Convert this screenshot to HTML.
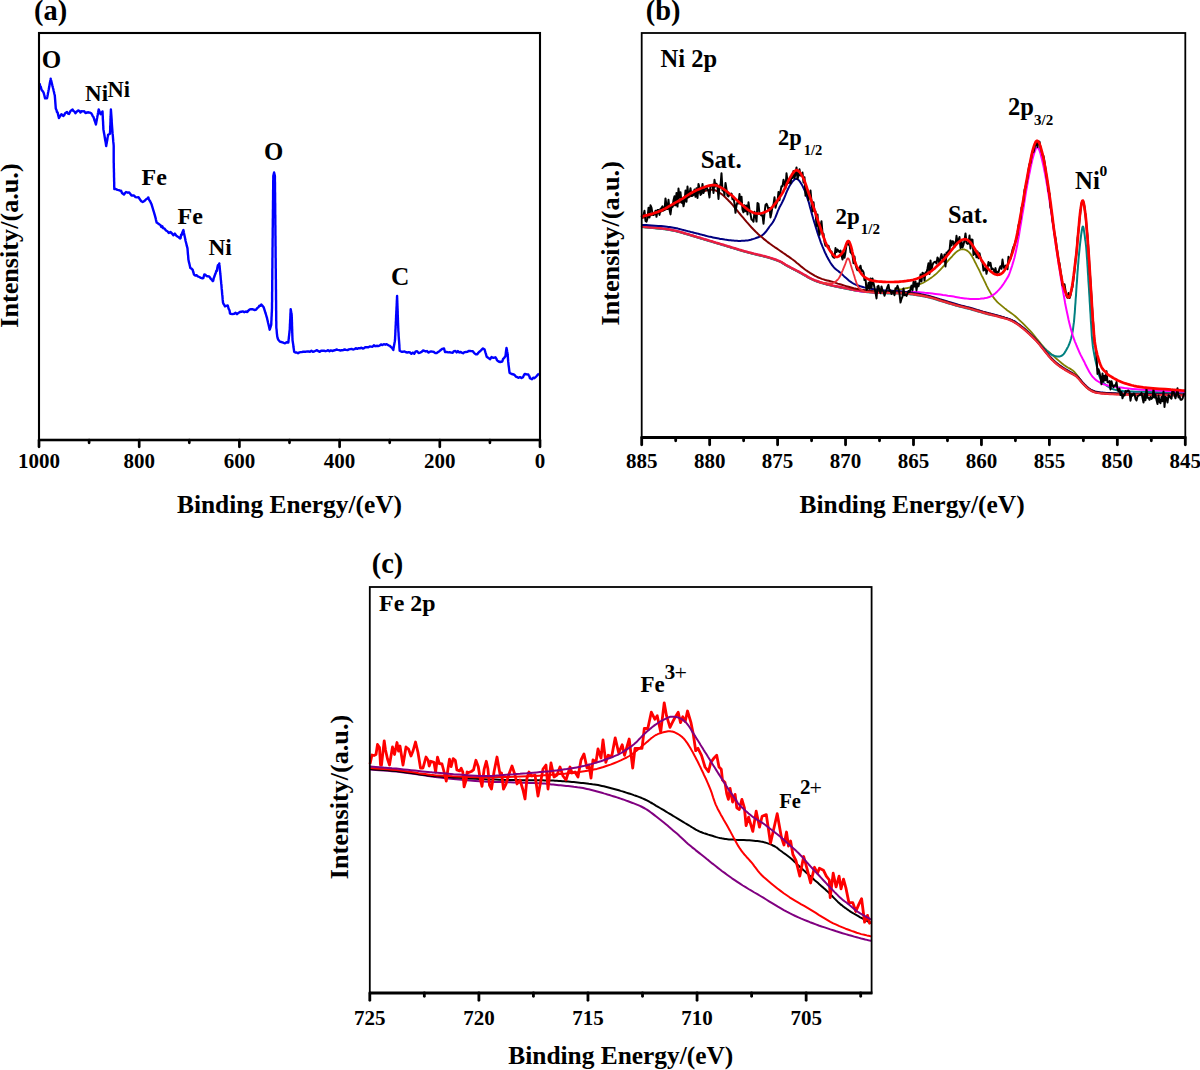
<!DOCTYPE html>
<html><head><meta charset="utf-8"><title>XPS spectra</title>
<style>html,body{margin:0;padding:0;background:#fff;overflow:hidden;}svg{display:block;font-family:"Liberation Serif",serif;}</style>
</head><body>
<svg width="1200" height="1070" viewBox="0 0 1200 1070" font-family="Liberation Serif" font-weight="bold">
<polyline points="39.5,83.4 39.9,84.8 40.4,86.7 40.8,86.8 41.3,89.1 41.7,89.9 42.7,91.2 43.6,92.7 44.0,94.1 44.4,95.5 44.7,96.9 45.1,98.3 47.0,98.3 47.3,97.0 47.5,95.7 47.8,94.4 48.0,93.1 48.3,91.8 48.5,90.5 48.8,89.2 49.0,87.9 49.3,86.6 49.5,85.2 49.7,83.9 50.0,82.6 50.2,81.3 50.5,80.0 50.7,78.7 51.0,80.0 51.4,81.4 51.7,82.7 52.0,84.0 52.3,85.3 52.7,86.7 53.0,88.0 53.4,89.5 53.7,91.0 54.1,92.5 54.4,94.0 54.8,95.5 54.9,96.8 55.0,98.1 55.1,99.4 55.2,100.7 55.3,102.0 55.4,103.4 55.5,104.7 55.6,106.0 55.7,107.3 55.8,108.6 56.4,109.7 57.0,112.1 57.6,112.3 57.9,113.7 58.2,115.2 58.6,116.6 58.9,118.0 59.7,116.8 60.6,115.4 61.4,114.2 63.2,116.0 64.2,115.1 65.1,113.3 67.0,112.0 68.0,113.6 69.0,114.0 69.8,112.5 70.5,111.0 72.6,109.5 73.5,111.1 74.5,111.5 75.4,113.3 76.3,112.2 77.3,111.2 78.2,110.5 79.3,110.8 80.5,112.5 81.7,111.1 82.9,111.4 84.2,111.3 85.5,113.0 87.0,112.5 88.5,112.3 89.9,112.7 91.3,113.3 92.0,114.5 92.7,116.1 93.4,116.8 94.1,118.9 94.5,120.3 95.0,121.7 95.5,123.1 95.9,124.5 96.2,123.1 96.4,121.8 96.7,120.4 96.9,119.0 97.2,117.7 97.4,116.3 97.7,115.0 97.9,113.6 98.2,112.2 98.4,110.9 98.7,109.5 99.3,111.0 100.0,112.8 100.6,114.2 101.5,113.2 102.5,111.4 102.6,112.8 102.6,114.1 102.7,115.5 102.8,116.9 102.8,118.2 102.9,119.6 103.0,121.0 103.1,122.4 103.1,123.7 103.2,125.1 103.3,126.5 103.3,127.8 103.4,129.2 103.6,130.5 103.8,131.8 104.0,133.1 104.3,134.4 104.5,135.7 104.7,137.0 104.9,138.2 105.1,139.5 105.3,140.8 105.6,142.1 105.8,143.4 106.0,144.7 106.2,146.0 106.4,144.6 106.7,143.2 106.9,141.8 107.2,140.4 107.4,139.0 107.6,137.6 107.9,136.2 108.1,134.8 110.0,133.8 110.0,132.5 110.1,131.1 110.2,129.8 110.2,128.4 110.2,127.1 110.3,125.7 110.4,124.4 110.4,123.0 110.5,121.7 110.5,120.3 110.5,119.0 110.6,117.6 110.7,116.2 110.7,114.9 110.8,113.5 110.8,112.2 110.9,110.8 110.9,109.5 111.0,110.8 111.1,112.2 111.2,113.5 111.3,114.9 111.4,116.2 111.5,117.6 111.6,118.9 111.7,120.2 111.7,121.6 111.8,122.9 111.9,124.3 112.0,125.6 112.1,127.0 112.2,128.3 112.3,129.7 112.4,131.0 112.5,132.4 112.6,133.7 112.8,135.1 112.9,136.5 113.0,137.8 113.1,139.2 113.2,140.5 113.3,141.9 113.5,143.3 113.6,144.6 113.7,146.0 113.7,147.4 113.7,148.7 113.7,150.1 113.7,151.5 113.7,152.8 113.7,154.2 113.7,155.5 113.7,156.9 113.7,158.3 113.7,159.6 113.7,161.0 113.7,162.3 113.8,163.7 113.8,165.0 113.8,166.3 113.8,167.7 113.9,169.0 113.9,170.3 113.9,171.7 114.0,173.0 114.0,174.3 114.0,175.7 114.0,177.0 114.1,178.3 114.1,179.7 114.1,181.0 114.2,182.3 114.2,183.7 114.2,185.0 114.2,186.3 114.3,187.7 114.3,189.0 115.8,189.0 117.4,189.9 118.8,190.1 120.2,190.8 121.1,190.8 122.0,193.0 124.0,194.6 125.0,193.0 126.0,192.0 127.7,192.7 129.0,192.4 130.2,193.8 131.5,195.5 134.0,195.5 135.5,197.1 137.0,197.4 138.5,197.2 140.0,199.5 141.3,201.2 142.7,202.0 143.8,201.4 145.0,200.5 146.1,199.3 147.2,198.7 148.3,197.4 148.8,198.9 149.4,200.4 149.9,200.9 150.4,201.9 150.9,203.1 151.5,204.1 152.0,205.8 152.4,207.1 152.8,208.5 153.2,209.8 153.6,211.1 154.0,212.4 154.4,213.8 154.8,215.1 155.2,216.6 155.6,218.1 155.9,219.6 156.3,221.1 156.7,222.6 158.1,223.5 159.5,224.5 160.4,225.0 161.3,226.9 162.3,226.2 163.2,228.2 164.6,228.7 166.0,230.5 167.4,231.2 168.8,232.9 170.4,232.0 172.0,233.5 173.4,235.3 174.9,233.6 176.3,235.7 177.5,236.5 178.8,237.3 180.0,238.5 180.6,238.0 181.1,234.6 181.7,234.9 182.3,232.5 182.8,231.4 183.4,230.1 183.7,231.5 183.9,232.8 184.2,234.2 184.5,235.6 184.8,236.9 185.1,238.3 185.3,239.6 185.6,241.0 186.0,242.5 186.4,244.0 186.7,245.4 187.1,246.9 187.5,248.4 187.6,249.8 187.7,251.2 187.8,252.6 187.9,254.0 188.1,255.4 188.2,256.8 188.3,258.2 188.4,259.6 188.7,261.0 189.0,262.4 189.4,263.8 189.7,265.2 190.0,266.6 190.3,268.0 191.5,268.6 192.7,269.9 193.1,271.5 193.6,273.0 194.0,274.6 195.3,275.6 196.5,275.2 197.8,276.4 199.3,277.0 200.9,277.9 202.4,278.3 203.3,278.1 204.3,274.5 205.2,274.6 206.5,276.0 207.7,276.3 209.0,276.4 209.9,277.3 210.8,278.9 211.8,279.7 212.7,281.1 213.2,280.8 213.6,278.7 214.1,277.2 214.6,276.0 215.0,274.7 215.5,273.6 216.0,272.2 216.4,270.6 216.9,270.9 217.4,267.4 217.9,265.2 218.4,265.9 218.8,264.6 219.3,263.4 219.4,264.7 219.6,266.1 219.7,267.4 219.8,268.7 219.9,270.0 220.1,271.4 220.2,272.7 220.3,274.0 220.5,275.4 220.6,276.7 220.7,278.0 220.8,279.3 221.0,280.7 221.1,282.0 221.2,283.4 221.4,284.7 221.5,286.1 221.6,287.5 221.7,288.9 221.9,290.2 222.0,291.6 222.1,293.0 222.2,294.4 222.4,295.7 222.5,297.1 222.6,298.5 222.7,299.9 222.9,301.2 223.0,302.6 223.6,304.1 224.3,305.0 224.9,306.4 226.3,305.8 227.7,305.4 228.2,307.0 228.6,308.7 229.1,309.4 229.6,310.8 230.0,313.5 230.5,313.8 232.3,314.1 234.2,313.8 235.6,312.8 237.0,314.2 238.4,312.9 239.8,312.0 241.3,311.7 242.8,311.4 244.3,312.2 245.8,311.5 247.3,312.0 248.5,310.5 249.8,309.4 251.0,309.2 252.9,309.3 254.8,310.0 256.0,309.7 257.3,308.0 258.5,307.3 259.4,305.6 260.4,305.8 261.3,304.5 262.5,305.9 263.7,307.3 264.1,308.6 264.5,309.9 264.9,311.2 265.3,312.5 265.7,313.7 266.1,315.0 266.5,316.3 266.9,317.6 267.2,318.9 267.5,320.3 267.8,321.6 268.1,323.0 268.5,324.3 268.8,325.7 269.1,327.0 269.4,328.4 269.7,329.7 270.2,328.1 270.7,326.6 271.2,325.0 271.3,323.6 271.3,322.2 271.4,320.8 271.5,319.4 271.5,318.0 271.6,316.6 271.7,315.2 271.7,313.8 271.8,312.4 271.9,311.0 271.9,309.6 272.0,308.2 272.0,306.9 272.0,305.6 272.0,304.3 272.0,303.0 272.1,301.7 272.1,300.4 272.1,299.1 272.1,297.7 272.1,296.4 272.1,295.1 272.1,293.8 272.1,292.5 272.2,291.2 272.2,289.9 272.2,288.6 272.2,287.3 272.2,286.0 272.2,284.7 272.2,283.4 272.2,282.1 272.2,280.8 272.3,279.4 272.3,278.1 272.3,276.8 272.3,275.5 272.3,274.2 272.3,272.9 272.3,271.6 272.3,270.3 272.3,269.0 272.4,267.7 272.4,266.4 272.4,265.1 272.4,263.8 272.4,262.5 272.4,261.1 272.4,259.8 272.4,258.5 272.5,257.2 272.5,255.9 272.5,254.6 272.5,253.3 272.5,252.0 272.5,250.7 272.5,249.4 272.5,248.1 272.6,246.8 272.6,245.4 272.6,244.1 272.6,242.8 272.6,241.5 272.6,240.2 272.6,238.9 272.7,237.6 272.7,236.3 272.7,235.0 272.7,233.7 272.7,232.3 272.7,231.0 272.7,229.7 272.7,228.4 272.8,227.1 272.8,225.8 272.8,224.5 272.8,223.2 272.8,221.9 272.8,220.6 272.8,219.2 272.9,217.9 272.9,216.6 272.9,215.3 272.9,214.0 272.9,212.7 272.9,211.4 272.9,210.1 273.0,208.8 273.0,207.4 273.0,206.1 273.0,204.8 273.0,203.5 273.0,202.2 273.0,200.9 273.1,199.6 273.1,198.3 273.1,197.0 273.1,195.7 273.1,194.3 273.1,193.0 273.1,191.7 273.1,190.4 273.2,189.1 273.2,187.8 273.2,186.5 273.2,185.2 273.2,183.9 273.2,182.6 273.2,181.2 273.3,179.9 273.3,178.6 273.3,177.3 273.3,176.0 273.7,174.2 274.1,172.5 274.5,174.2 274.9,176.0 274.9,177.3 274.9,178.6 274.9,179.9 274.9,181.2 275.0,182.6 275.0,183.9 275.0,185.2 275.0,186.5 275.0,187.8 275.0,189.1 275.0,190.4 275.0,191.7 275.1,193.0 275.1,194.3 275.1,195.7 275.1,197.0 275.1,198.3 275.1,199.6 275.1,200.9 275.1,202.2 275.2,203.5 275.2,204.8 275.2,206.1 275.2,207.4 275.2,208.8 275.2,210.1 275.2,211.4 275.2,212.7 275.2,214.0 275.3,215.3 275.3,216.6 275.3,217.9 275.3,219.2 275.3,220.6 275.3,221.9 275.3,223.2 275.3,224.5 275.4,225.8 275.4,227.1 275.4,228.4 275.4,229.7 275.4,231.0 275.4,232.3 275.4,233.7 275.4,235.0 275.5,236.3 275.5,237.6 275.5,238.9 275.5,240.2 275.5,241.5 275.5,242.8 275.5,244.1 275.5,245.4 275.6,246.8 275.6,248.1 275.6,249.4 275.6,250.7 275.6,252.0 275.6,253.3 275.6,254.6 275.6,255.9 275.6,257.3 275.7,258.6 275.7,259.9 275.7,261.2 275.7,262.5 275.7,263.8 275.7,265.2 275.7,266.5 275.7,267.8 275.8,269.1 275.8,270.4 275.8,271.7 275.8,273.1 275.8,274.4 275.8,275.7 275.8,277.0 275.8,278.3 275.9,279.6 275.9,280.9 275.9,282.3 275.9,283.6 275.9,284.9 275.9,286.2 275.9,287.5 275.9,288.8 276.0,290.2 276.0,291.5 276.0,292.8 276.0,294.1 276.0,295.4 276.0,296.7 276.0,298.1 276.0,299.4 276.1,300.7 276.1,302.0 276.1,303.3 276.1,304.6 276.1,305.9 276.1,307.3 276.1,308.6 276.1,309.9 276.2,311.2 276.2,312.5 276.2,313.8 276.2,315.2 276.2,316.5 276.2,317.8 276.2,319.1 276.2,320.4 276.3,321.7 276.3,323.1 276.3,324.4 276.3,325.7 276.3,327.0 276.4,328.3 276.6,329.7 276.7,331.0 276.8,332.3 276.9,333.6 277.1,335.0 277.2,336.3 277.6,338.0 278.1,339.4 278.5,340.0 280.0,341.7 281.2,342.0 282.5,342.4 283.8,342.9 285.0,343.3 286.6,342.3 288.3,342.5 288.5,341.1 288.6,339.7 288.8,338.3 288.9,336.9 289.1,335.6 289.2,334.2 289.4,332.8 289.5,331.4 289.7,330.0 289.8,328.7 289.8,327.4 289.9,326.1 289.9,324.8 290.0,323.5 290.1,322.2 290.1,320.9 290.2,319.6 290.3,318.3 290.3,317.0 290.4,315.7 290.4,314.4 290.5,313.1 290.6,311.8 290.6,310.5 290.7,309.2 290.9,310.6 291.2,312.1 291.4,313.6 291.7,315.0 291.7,316.3 291.8,317.6 291.8,318.9 291.9,320.3 291.9,321.6 292.0,322.9 292.0,324.2 292.0,325.5 292.1,326.8 292.1,328.2 292.2,329.5 292.2,330.8 292.2,332.1 292.3,333.4 292.3,334.7 292.4,336.1 292.4,337.4 292.5,338.7 292.5,340.0 292.7,341.3 292.9,342.6 293.1,343.9 293.3,345.2 293.4,346.5 293.6,347.8 293.8,349.1 294.0,350.4 294.2,351.7 295.4,352.5 296.7,352.5 298.0,353.2 299.4,352.4 300.7,352.1 302.0,352.0 303.4,351.7 304.7,351.6 306.0,351.7 307.3,351.4 308.7,351.5 310.0,351.7 311.4,350.8 312.8,351.7 314.2,351.5 315.6,350.8 317.0,350.1 318.4,351.2 319.7,351.8 321.1,350.7 322.5,350.8 323.9,350.6 325.3,351.2 326.7,350.8 328.1,350.2 329.5,351.2 330.9,350.4 332.2,351.0 333.6,350.5 335.0,350.3 336.4,349.5 337.8,349.9 339.1,350.1 340.5,350.5 341.9,350.2 343.3,350.0 344.7,349.5 346.1,349.9 347.5,350.1 348.9,349.4 350.3,349.1 351.6,348.9 353.0,349.5 354.4,349.2 355.8,348.2 357.2,348.8 358.6,348.2 360.0,348.3 361.4,347.7 362.8,348.6 364.2,348.1 365.6,347.1 367.0,347.3 368.4,347.3 369.7,346.5 371.1,346.6 372.5,346.8 373.9,345.2 375.3,346.2 376.7,345.8 378.1,346.0 379.6,345.6 381.0,344.4 382.4,345.1 383.8,344.2 385.3,344.7 386.7,344.2 388.4,345.3 390.0,345.8 390.8,347.0 391.6,347.5 392.5,348.6 393.3,350.0 393.5,348.6 393.8,347.1 394.0,345.7 394.3,344.3 394.5,342.9 394.8,341.4 395.0,340.0 395.1,338.7 395.1,337.3 395.2,336.0 395.3,334.7 395.3,333.3 395.4,332.0 395.4,330.7 395.5,329.3 395.6,328.0 395.6,326.7 395.7,325.3 395.8,324.0 395.8,322.7 395.9,321.3 396.0,320.0 396.0,318.7 396.1,317.3 396.1,316.0 396.2,314.7 396.3,313.3 396.3,312.0 396.4,310.7 396.5,309.3 396.5,308.0 396.6,306.7 396.7,305.3 396.7,304.0 396.8,302.7 396.8,301.3 396.9,300.0 397.0,298.7 397.0,297.3 397.1,296.0 397.1,297.3 397.2,298.6 397.2,299.9 397.3,301.2 397.3,302.5 397.4,303.8 397.4,305.2 397.5,306.5 397.5,307.8 397.6,309.1 397.6,310.4 397.7,311.7 397.7,313.0 397.7,314.3 397.8,315.6 397.8,316.9 397.9,318.2 397.9,319.5 398.0,320.8 398.0,322.2 398.1,323.5 398.1,324.8 398.2,326.1 398.2,327.4 398.3,328.7 398.3,330.0 398.4,331.3 398.5,332.6 398.6,333.9 398.6,335.2 398.7,336.5 398.8,337.8 398.9,339.1 399.0,340.4 399.1,341.7 399.2,343.0 399.3,344.3 399.4,345.6 399.4,346.9 399.5,348.2 399.6,349.5 399.7,350.8 401.5,351.7 403.3,351.7 404.6,351.4 406.0,352.3 407.3,352.5 408.7,352.2 410.0,352.5 411.4,353.8 412.9,352.6 414.3,353.7 415.7,351.4 417.1,351.3 418.6,353.1 420.0,352.6 421.6,351.9 423.1,350.5 424.4,350.9 425.7,351.5 427.0,351.0 428.3,352.6 429.7,351.9 431.1,351.4 432.5,351.6 433.9,352.0 435.3,353.1 436.7,353.1 438.1,352.1 439.4,351.2 440.8,350.0 442.4,348.8 444.0,348.4 444.5,350.2 445.0,352.0 446.6,351.9 448.1,352.4 449.7,352.3 451.3,352.6 452.7,352.8 454.0,351.1 455.4,351.0 456.7,352.4 457.9,351.1 459.2,352.5 460.4,351.9 461.7,352.6 463.1,353.2 464.5,352.1 465.9,352.0 467.2,351.9 468.6,350.9 470.0,351.0 471.4,351.1 472.8,351.3 474.2,353.1 475.8,354.3 477.3,354.2 478.3,352.8 479.4,351.7 480.4,351.0 481.7,349.7 483.0,348.4 484.6,349.5 485.0,351.0 485.4,352.4 485.9,353.9 486.3,355.3 486.7,356.8 488.8,358.3 490.2,359.2 491.5,357.0 492.9,357.8 494.2,357.7 495.5,357.3 496.3,358.6 497.1,360.4 498.6,361.5 500.2,362.0 502.3,361.5 503.1,358.9 503.9,358.3 505.4,356.3 505.6,354.9 505.8,353.5 505.9,352.1 506.1,350.7 506.3,349.3 506.5,347.9 506.8,349.2 507.0,350.5 507.2,351.8 507.5,353.1 507.6,354.5 507.8,356.0 507.9,357.4 508.0,358.9 508.1,360.3 508.2,361.7 508.4,363.2 508.5,364.6 508.7,366.0 508.9,367.4 509.1,368.8 509.2,370.1 509.4,371.5 509.6,372.9 511.7,374.0 513.8,374.5 514.8,375.3 515.8,376.6 517.2,377.2 518.6,377.8 520.0,377.1 521.5,378.0 523.1,377.1 523.9,375.1 524.7,374.0 526.5,374.3 528.3,374.5 528.8,375.6 529.4,376.1 529.9,378.1 532.0,379.2 533.2,377.7 534.4,378.2 535.6,377.1 536.7,376.0 537.9,374.6 539.0,373.5" fill="none" stroke="#0000ff" stroke-width="2.4" stroke-linejoin="round"/>
<rect x="39" y="33" width="501" height="407" fill="none" stroke="#000" stroke-width="2.1"/>
<line x1="38.2" y1="440" x2="540.8" y2="440" stroke="#000" stroke-width="2.5"/>
<line x1="540.00" y1="440" x2="540.00" y2="446.8" stroke="#000" stroke-width="2.7" stroke-linecap="round"/>
<text x="540.00" y="468.00" font-size="21.00" text-anchor="middle" >0</text>
<line x1="489.90" y1="440" x2="489.90" y2="442.8" stroke="#000" stroke-width="2.7" stroke-linecap="round"/>
<line x1="439.80" y1="440" x2="439.80" y2="446.8" stroke="#000" stroke-width="2.7" stroke-linecap="round"/>
<text x="439.80" y="468.00" font-size="21.00" text-anchor="middle" >200</text>
<line x1="389.70" y1="440" x2="389.70" y2="442.8" stroke="#000" stroke-width="2.7" stroke-linecap="round"/>
<line x1="339.60" y1="440" x2="339.60" y2="446.8" stroke="#000" stroke-width="2.7" stroke-linecap="round"/>
<text x="339.60" y="468.00" font-size="21.00" text-anchor="middle" >400</text>
<line x1="289.50" y1="440" x2="289.50" y2="442.8" stroke="#000" stroke-width="2.7" stroke-linecap="round"/>
<line x1="239.40" y1="440" x2="239.40" y2="446.8" stroke="#000" stroke-width="2.7" stroke-linecap="round"/>
<text x="239.40" y="468.00" font-size="21.00" text-anchor="middle" >600</text>
<line x1="189.30" y1="440" x2="189.30" y2="442.8" stroke="#000" stroke-width="2.7" stroke-linecap="round"/>
<line x1="139.20" y1="440" x2="139.20" y2="446.8" stroke="#000" stroke-width="2.7" stroke-linecap="round"/>
<text x="139.20" y="468.00" font-size="21.00" text-anchor="middle" >800</text>
<line x1="89.10" y1="440" x2="89.10" y2="442.8" stroke="#000" stroke-width="2.7" stroke-linecap="round"/>
<line x1="39.00" y1="440" x2="39.00" y2="446.8" stroke="#000" stroke-width="2.7" stroke-linecap="round"/>
<text x="39.00" y="468.00" font-size="21.00" text-anchor="middle" >1000</text>
<text x="177.00" y="513.00" font-size="25.40" text-anchor="start" >Binding Energy/(eV)</text>
<text x="18.50" y="245.60" font-size="26.20" text-anchor="middle" transform="rotate(-90 18.5 245.6)">Intensity/(a.u.)</text>
<text x="34.00" y="19.50" font-size="28.40" text-anchor="start" >(a)</text>
<text x="41.80" y="68.00" font-size="25.00" text-anchor="start" >O</text>
<text x="85.10" y="100.75" font-size="23.00" text-anchor="start" >Ni</text>
<text x="107.60" y="96.75" font-size="22.50" text-anchor="start" >Ni</text>
<text x="141.60" y="184.80" font-size="24.00" text-anchor="start" >Fe</text>
<text x="177.60" y="224.00" font-size="24.00" text-anchor="start" >Fe</text>
<text x="208.40" y="254.90" font-size="23.30" text-anchor="start" >Ni</text>
<text x="264.10" y="159.70" font-size="24.80" text-anchor="start" >O</text>
<text x="390.90" y="284.65" font-size="25.40" text-anchor="start" >C</text>
<path d="M642.0,227.0L642.5,227.1 643.1,227.1 643.8,227.2 644.6,227.3 645.5,227.4 646.4,227.4 647.2,227.5 648.0,227.6 648.8,227.6 649.5,227.7 650.2,227.8 651.0,227.8 651.8,227.9 652.5,228.0 653.2,228.0 654.0,228.1 654.8,228.2 655.5,228.3 656.2,228.3 657.0,228.4 657.8,228.5 658.5,228.5 659.2,228.6 660.0,228.7 660.8,228.8 661.5,228.9 662.2,228.9 663.0,229.0 663.8,229.1 664.5,229.2 665.2,229.3 666.0,229.4 666.8,229.5 667.5,229.6 668.2,229.7 669.0,229.9 669.8,230.0 670.5,230.1 671.2,230.3 672.0,230.4 672.8,230.6 673.5,230.7 674.2,230.9 675.0,231.0 675.8,231.2 676.5,231.4 677.2,231.6 678.0,231.8 678.8,232.0 679.5,232.2 680.2,232.4 681.0,232.6 681.8,232.8 682.5,233.0 683.2,233.2 684.0,233.5 684.8,233.7 685.5,233.9 686.2,234.1 687.0,234.3 687.8,234.6 688.5,234.8 689.2,235.0 690.0,235.2 690.8,235.4 691.5,235.7 692.2,235.9 693.0,236.1 693.8,236.4 694.5,236.6 695.2,236.8 696.0,237.1 696.8,237.3 697.5,237.5 698.2,237.7 699.0,238.0 699.8,238.2 700.5,238.4 701.2,238.6 702.0,238.9 702.8,239.1 703.5,239.3 704.2,239.5 705.0,239.8 705.8,240.0 706.5,240.2 707.2,240.4 708.0,240.7 708.8,240.9 709.5,241.1 710.2,241.3 711.0,241.5 711.8,241.8 712.5,242.0 713.2,242.2 714.0,242.4 714.8,242.7 715.5,242.9 716.2,243.1 717.0,243.3 717.8,243.6 718.5,243.8 719.2,244.0 720.0,244.2 720.8,244.5 721.5,244.7 722.2,244.9 723.0,245.1 723.8,245.4 724.5,245.6 725.2,245.8 726.0,246.0 726.8,246.3 727.5,246.5 728.2,246.7 729.0,247.0 729.8,247.2 730.5,247.4 731.2,247.6 732.0,247.9 732.8,248.1 733.5,248.3 734.2,248.5 735.0,248.8 735.8,249.0 736.5,249.2 737.2,249.5 738.0,249.7 738.8,249.9 739.5,250.1 740.2,250.4 741.0,250.6 741.8,250.8 742.5,251.0 743.2,251.3 744.0,251.5 744.8,251.7 745.5,251.9 746.2,252.1 747.0,252.3 747.8,252.5 748.5,252.7 749.2,252.9 750.0,253.1 750.8,253.3 751.5,253.5 752.2,253.6 753.0,253.8 753.8,254.0 754.5,254.2 755.2,254.4 756.0,254.6 756.8,254.8 757.5,254.9 758.2,255.1 759.0,255.3 759.8,255.5 760.5,255.6 761.2,255.8 762.0,256.0 762.8,256.2 763.5,256.4 764.2,256.6 765.0,256.8 765.8,257.0 766.5,257.1 767.2,257.4 768.0,257.6 768.8,257.8 769.5,258.0 770.2,258.2 771.0,258.5 771.8,258.7 772.5,259.0 773.2,259.2 774.0,259.5 774.8,259.7 775.5,260.0 776.2,260.2 777.0,260.5 777.8,260.8 778.5,261.1 779.2,261.4 780.0,261.8 780.8,262.1 781.5,262.6 782.2,263.0 783.0,263.5 783.8,264.0 784.5,264.4 785.2,264.9 786.0,265.3 786.8,265.8 787.5,266.2 788.2,266.6 789.0,267.0 789.8,267.4 790.5,267.8 791.2,268.2 792.0,268.6 792.8,268.9 793.5,269.3 794.2,269.7 795.0,270.1 795.8,270.5 796.5,270.9 797.2,271.3 798.0,271.7 798.8,272.1 799.5,272.5 800.2,272.9 801.0,273.3 801.8,273.8 802.5,274.2 803.2,274.6 804.0,275.0 804.8,275.4 805.5,275.9 806.2,276.3 807.0,276.8 807.8,277.2 808.5,277.6 809.2,278.0 810.0,278.4 810.8,278.8 811.5,279.2 812.2,279.5 813.0,279.9 813.8,280.2 814.5,280.5 815.2,280.8 816.0,281.1 816.8,281.4 817.5,281.7 818.2,282.0 819.0,282.2 819.8,282.4 820.5,282.7 821.2,282.9 822.0,283.1 822.8,283.3 823.5,283.6 824.2,283.8 825.0,284.0 825.8,284.2 826.5,284.4 827.2,284.6 828.0,284.8 828.8,285.0 829.5,285.2 830.2,285.4 831.0,285.5 831.8,285.7 832.5,285.9 833.2,286.0 834.0,286.2 834.8,286.4 835.5,286.5 836.2,286.7 837.0,286.8 837.8,287.0 838.5,287.1 839.2,287.3 840.0,287.4 840.8,287.6 841.5,287.8 842.3,287.9 843.1,288.1 843.9,288.3 844.6,288.4 845.3,288.5 846.0,288.7 846.6,288.8 847.0,288.9 847.4,289.0 847.8,289.1 848.1,289.1 848.6,289.2 849.2,289.3 850.0,289.5 850.9,289.7 851.8,289.9 852.9,290.1 854.0,290.3 855.3,290.6 856.7,290.8 858.2,291.0 860.0,291.2 862.1,291.4 864.5,291.6 867.2,291.7 870.0,291.9 872.8,292.1 875.5,292.2 877.9,292.3 880.0,292.3 881.7,292.3 883.2,292.3 884.5,292.2 885.6,292.1 886.6,292.0 887.7,291.8 888.8,291.7 890.0,291.5 891.3,291.3 892.7,291.0 894.0,290.8 895.4,290.5 896.8,290.2 898.1,289.9 899.4,289.6 900.7,289.3 901.9,289.1 903.0,288.8 904.1,288.6 905.2,288.4 906.3,288.2 907.4,288.0 908.7,287.7 910.0,287.3 911.5,286.9 913.0,286.4 914.7,286.0 916.4,285.5 918.1,284.9 919.9,284.2 921.6,283.5 923.3,282.7 925.0,281.8 926.6,280.8 928.3,279.8 930.0,278.6 931.7,277.4 933.4,276.1 935.0,274.8 936.7,273.3 938.4,271.7 940.2,269.8 942.0,267.9 943.8,265.9 945.5,263.9 947.1,262.0 948.6,260.2 950.0,258.7 951.2,257.4 952.2,256.3 953.1,255.2 953.9,254.3 954.7,253.5 955.4,252.8 956.2,252.1 957.0,251.5 957.8,250.9 958.6,250.5 959.4,250.0 960.2,249.7 960.9,249.5 961.7,249.3 962.5,249.2 963.3,249.3 964.1,249.4 964.9,249.7 965.8,250.0 966.6,250.4 967.5,250.9 968.3,251.6 969.2,252.4 970.0,253.3 970.8,254.4 971.7,255.7 972.5,257.2 973.4,258.7 974.2,260.3 975.0,262.0 975.9,263.7 976.7,265.3 977.5,266.9 978.4,268.6 979.2,270.2 980.0,271.9 980.8,273.6 981.6,275.3 982.5,277.0 983.3,278.7 984.1,280.4 985.0,282.1 985.8,283.9 986.6,285.6 987.5,287.3 988.3,289.0 989.2,290.5 990.0,292.0 990.8,293.4 991.6,294.6 992.4,295.8 993.2,297.0 994.0,298.1 994.8,299.2 995.7,300.2 996.7,301.3 997.7,302.4 998.8,303.4 1000.0,304.4 1001.2,305.4 1002.4,306.4 1003.6,307.4 1004.8,308.4 1006.0,309.3 1007.1,310.2 1008.2,310.9 1009.3,311.7 1010.3,312.4 1011.4,313.2 1012.6,314.1 1013.9,315.1 1015.3,316.3 1016.9,317.7 1018.6,319.3 1020.5,321.1 1022.4,322.9 1024.4,324.9 1026.3,326.8 1028.2,328.8 1030.0,330.7 1031.8,332.7 1033.6,334.8 1035.4,337.0 1037.1,339.2 1038.9,341.3 1040.5,343.3 1042.0,345.2 1043.3,346.7 1044.4,347.9 1045.3,348.8 1046.0,349.5 1046.6,350.1 1047.2,350.6 1048.0,351.3 1048.9,352.0 1050.0,353.0 1051.4,354.3 1053.1,355.7 1054.9,357.3 1056.8,359.0 1058.7,360.6 1060.6,362.2 1062.4,363.7 1064.0,365.0 1065.5,366.1 1066.9,366.9 1068.2,367.7 1069.5,368.4 1070.7,369.1 1072.0,369.9 1073.2,370.8 1074.5,372.0 1075.8,373.5 1077.2,375.2 1078.5,377.1 1079.9,379.1 1081.2,381.1 1082.5,382.9 1083.8,384.6 1085.0,386.0 1086.1,387.1 1087.1,388.0 1088.1,388.8 1089.0,389.4 1090.0,389.9 1091.1,390.4 1092.4,390.8 1093.8,391.3 1095.1,391.7 1096.0,392.1 1096.8,392.4 1097.8,392.7 1099.4,392.9 1101.7,393.1 1105.2,393.3 1110.0,393.5 1117.0,393.7 1126.2,393.9 1136.8,394.0 1148.0,394.1 1159.1,394.3 1169.3,394.3 1177.9,394.4 1184.0,394.5" fill="none" stroke="#808000" stroke-width="1.80" stroke-linejoin="round" stroke-linecap="round" />
<path d="M642.0,227.1L642.5,227.1 643.1,227.2 643.8,227.3 644.6,227.3 645.5,227.4 646.4,227.5 647.2,227.6 648.0,227.6 648.8,227.7 649.5,227.8 650.2,227.8 651.0,227.9 651.8,228.0 652.5,228.0 653.2,228.1 654.0,228.2 654.8,228.2 655.5,228.3 656.2,228.4 657.0,228.4 657.8,228.5 658.5,228.6 659.2,228.7 660.0,228.7 660.8,228.8 661.5,228.9 662.2,229.0 663.0,229.1 663.8,229.2 664.5,229.2 665.2,229.3 666.0,229.4 666.8,229.6 667.5,229.7 668.2,229.8 669.0,229.9 669.8,230.0 670.5,230.2 671.2,230.3 672.0,230.5 672.8,230.6 673.5,230.8 674.2,230.9 675.0,231.1 675.8,231.3 676.5,231.5 677.2,231.6 678.0,231.8 678.8,232.0 679.5,232.2 680.2,232.4 681.0,232.6 681.8,232.9 682.5,233.1 683.2,233.3 684.0,233.5 684.8,233.7 685.5,233.9 686.2,234.2 687.0,234.4 687.8,234.6 688.5,234.8 689.2,235.0 690.0,235.3 690.8,235.5 691.5,235.7 692.2,236.0 693.0,236.2 693.8,236.4 694.5,236.6 695.2,236.9 696.0,237.1 696.8,237.3 697.5,237.6 698.2,237.8 699.0,238.0 699.8,238.2 700.5,238.5 701.2,238.7 702.0,238.9 702.8,239.1 703.5,239.4 704.2,239.6 705.0,239.8 705.8,240.0 706.5,240.3 707.2,240.5 708.0,240.7 708.8,240.9 709.5,241.2 710.2,241.4 711.0,241.6 711.8,241.8 712.5,242.0 713.2,242.3 714.0,242.5 714.8,242.7 715.5,242.9 716.2,243.2 717.0,243.4 717.8,243.6 718.5,243.8 719.2,244.1 720.0,244.3 720.8,244.5 721.5,244.7 722.2,245.0 723.0,245.2 723.8,245.4 724.5,245.6 725.2,245.9 726.0,246.1 726.8,246.3 727.5,246.5 728.2,246.8 729.0,247.0 729.8,247.2 730.5,247.5 731.2,247.7 732.0,247.9 732.8,248.1 733.5,248.4 734.2,248.6 735.0,248.8 735.8,249.1 736.5,249.3 737.2,249.5 738.0,249.7 738.8,250.0 739.5,250.2 740.2,250.4 741.0,250.6 741.8,250.9 742.5,251.1 743.2,251.3 744.0,251.5 744.8,251.7 745.5,251.9 746.2,252.1 747.0,252.3 747.8,252.5 748.5,252.7 749.2,252.9 750.0,253.1 750.8,253.3 751.5,253.5 752.2,253.7 753.0,253.9 753.8,254.1 754.5,254.3 755.2,254.4 756.0,254.6 756.8,254.8 757.5,255.0 758.2,255.2 759.0,255.3 759.8,255.5 760.5,255.7 761.2,255.9 762.0,256.1 762.8,256.3 763.5,256.4 764.2,256.6 765.0,256.8 765.8,257.0 766.5,257.2 767.2,257.4 768.0,257.6 768.8,257.8 769.5,258.1 770.2,258.3 771.0,258.5 771.8,258.8 772.5,259.0 773.2,259.3 774.0,259.5 774.8,259.8 775.5,260.0 776.2,260.3 777.0,260.6 777.8,260.8 778.5,261.1 779.2,261.4 780.0,261.8 780.8,262.2 781.5,262.6 782.2,263.1 783.0,263.5 783.8,264.0 784.5,264.5 785.2,265.0 786.0,265.4 786.8,265.8 787.5,266.2 788.2,266.6 789.0,267.0 789.8,267.4 790.5,267.8 791.2,268.2 792.0,268.6 792.8,269.0 793.5,269.4 794.2,269.8 795.0,270.2 795.8,270.6 796.5,270.9 797.2,271.3 798.0,271.7 798.8,272.1 799.5,272.6 800.2,273.0 801.0,273.4 801.8,273.8 802.5,274.2 803.2,274.6 804.0,275.1 804.8,275.5 805.5,275.9 806.2,276.4 807.0,276.8 807.8,277.3 808.5,277.7 809.2,278.1 810.0,278.5 810.8,278.9 811.5,279.2 812.2,279.6 813.0,279.9 813.8,280.3 814.5,280.6 815.2,280.9 816.0,281.2 816.8,281.5 817.5,281.7 818.2,282.0 819.0,282.2 819.8,282.5 820.5,282.7 821.2,282.9 822.0,283.2 822.8,283.4 823.5,283.6 824.2,283.8 825.0,284.0 825.8,284.3 826.5,284.5 827.2,284.7 828.0,284.8 828.8,285.0 829.5,285.2 830.2,285.4 831.0,285.6 831.8,285.8 832.5,285.9 833.2,286.1 834.0,286.3 834.8,286.4 835.5,286.6 836.2,286.7 837.0,286.9 837.8,287.0 838.5,287.2 839.2,287.3 840.0,287.5 840.8,287.7 841.5,287.8 842.2,288.0 843.0,288.1 843.8,288.3 844.5,288.4 845.2,288.6 846.0,288.7 846.8,288.9 847.5,289.0 848.2,289.2 849.0,289.3 849.8,289.5 850.5,289.6 851.2,289.8 852.0,289.9 852.8,290.1 853.5,290.2 854.2,290.3 855.0,290.5 855.8,290.6 856.5,290.7 857.2,290.8 858.0,291.0 858.8,291.1 859.5,291.2 860.2,291.3 861.0,291.4 861.8,291.5 862.5,291.6 863.2,291.7 864.0,291.8 864.8,291.9 865.5,292.0 866.2,292.1 867.0,292.2 867.8,292.3 868.5,292.3 869.2,292.4 870.0,292.5 870.8,292.6 871.5,292.6 872.2,292.7 873.0,292.7 873.8,292.8 874.5,292.9 875.2,292.9 876.0,293.0 876.8,293.0 877.5,293.0 878.2,293.1 879.0,293.1 879.8,293.1 880.5,293.2 881.2,293.2 882.0,293.2 882.8,293.3 883.5,293.3 884.2,293.3 885.0,293.3 885.8,293.3 886.5,293.3 887.2,293.4 888.0,293.4 888.8,293.4 889.5,293.4 890.2,293.4 891.0,293.4 891.8,293.5 892.5,293.5 893.2,293.5 894.0,293.5 894.8,293.5 895.5,293.5 896.2,293.6 897.0,293.6 897.8,293.6 898.5,293.6 899.2,293.6 900.0,293.7 900.8,293.7 901.5,293.7 902.2,293.8 903.0,293.8 903.8,293.8 904.5,293.9 905.2,293.9 906.0,294.0 906.8,294.0 907.5,294.1 908.2,294.1 909.0,294.2 909.8,294.3 910.5,294.4 911.2,294.4 912.0,294.5 912.8,294.6 913.5,294.7 914.2,294.8 915.0,294.9 915.8,295.0 916.5,295.2 917.2,295.3 918.0,295.4 918.8,295.5 919.5,295.6 920.2,295.8 921.0,295.9 921.8,296.0 922.5,296.2 923.2,296.3 924.0,296.5 924.8,296.6 925.5,296.8 926.2,296.9 927.0,297.1 927.8,297.3 928.5,297.4 929.2,297.6 930.0,297.8 930.8,298.0 931.5,298.2 932.2,298.4 933.0,298.6 933.8,298.8 934.5,299.1 935.2,299.3 936.0,299.5 936.8,299.7 937.5,300.0 938.2,300.2 939.0,300.5 939.8,300.7 940.5,300.9 941.2,301.2 942.0,301.4 942.8,301.6 943.5,301.9 944.2,302.1 945.0,302.3 945.8,302.5 946.5,302.8 947.2,303.0 948.0,303.2 948.8,303.5 949.5,303.7 950.2,303.9 951.0,304.1 951.8,304.4 952.5,304.6 953.2,304.8 954.0,305.0 954.8,305.2 955.5,305.5 956.2,305.7 957.0,305.9 957.8,306.1 958.5,306.3 959.2,306.5 960.0,306.7 960.8,306.9 961.5,307.1 962.2,307.2 963.0,307.4 963.8,307.6 964.5,307.8 965.2,308.0 966.0,308.2 966.8,308.4 967.5,308.5 968.2,308.7 969.0,308.9 969.8,309.1 970.5,309.3 971.2,309.5 972.0,309.8 972.8,310.0 973.5,310.2 974.2,310.4 975.0,310.6 975.8,310.8 976.5,311.1 977.2,311.3 978.0,311.5 978.8,311.7 979.5,311.9 980.2,312.1 981.0,312.4 981.8,312.6 982.5,312.8 983.2,313.0 984.0,313.2 984.7,313.4 985.4,313.6 986.1,313.8 986.8,314.0 987.5,314.2 988.2,314.4 989.1,314.6 990.0,314.8 991.0,315.0 992.2,315.2 993.4,315.3 994.6,315.5 995.9,315.7 997.3,315.9 998.6,316.2 1000.0,316.5 1001.4,316.9 1002.9,317.2 1004.4,317.7 1005.9,318.1 1007.4,318.6 1009.0,319.2 1010.5,319.8 1012.0,320.5 1013.5,321.3 1015.0,322.1 1016.4,323.1 1017.9,324.0 1019.4,325.1 1020.8,326.2 1022.3,327.3 1023.8,328.5 1025.3,329.8 1026.9,331.2 1028.6,332.7 1030.2,334.3 1031.8,335.8 1033.3,337.3 1034.7,338.7 1036.0,340.0 1037.2,341.1 1038.2,342.2 1039.1,343.2 1040.0,344.1 1040.8,345.0 1041.6,345.8 1042.4,346.7 1043.3,347.5 1044.2,348.3 1045.0,349.2 1045.9,350.0 1046.7,350.8 1047.5,351.5 1048.3,352.2 1049.2,352.9 1050.0,353.5 1050.8,354.0 1051.7,354.6 1052.6,355.0 1053.4,355.4 1054.3,355.8 1055.1,356.1 1055.9,356.3 1056.7,356.5 1057.4,356.6 1058.2,356.6 1058.8,356.6 1059.5,356.5 1060.2,356.3 1060.8,356.1 1061.4,355.8 1062.0,355.5 1062.6,355.1 1063.1,354.6 1063.6,354.1 1064.1,353.5 1064.6,352.8 1065.0,352.1 1065.5,351.3 1066.0,350.5 1066.5,349.6 1067.0,348.7 1067.6,347.6 1068.1,346.6 1068.6,345.5 1069.1,344.3 1069.6,343.2 1070.0,342.0 1070.4,340.8 1070.7,339.7 1071.1,338.5 1071.4,337.3 1071.7,336.1 1072.0,334.8 1072.2,333.5 1072.5,332.0 1072.8,330.5 1073.0,329.1 1073.2,327.6 1073.4,326.0 1073.6,324.3 1073.9,322.4 1074.1,320.4 1074.3,318.0 1074.5,315.3 1074.8,312.3 1075.0,309.1 1075.2,305.8 1075.5,302.3 1075.7,298.8 1076.0,295.3 1076.2,292.0 1076.4,288.7 1076.6,285.5 1076.9,282.2 1077.1,278.9 1077.3,275.6 1077.5,272.4 1077.8,269.2 1078.0,266.0 1078.3,262.8 1078.5,259.7 1078.8,256.5 1079.1,253.3 1079.4,250.3 1079.7,247.4 1080.0,244.6 1080.3,242.0 1080.6,239.5 1080.9,236.9 1081.2,234.4 1081.6,232.0 1081.9,230.0 1082.2,228.3 1082.5,227.1 1082.8,226.5 1083.1,226.6 1083.4,227.4 1083.7,228.6 1083.9,230.3 1084.2,232.2 1084.5,234.2 1084.8,236.2 1085.0,238.0 1085.2,239.7 1085.5,241.3 1085.7,243.0 1085.9,244.8 1086.1,246.7 1086.3,248.8 1086.5,251.3 1086.7,254.0 1086.9,257.1 1087.2,260.6 1087.4,264.4 1087.7,268.4 1087.9,272.6 1088.2,276.8 1088.4,280.9 1088.7,285.0 1089.0,289.1 1089.2,293.2 1089.5,297.5 1089.7,301.8 1090.0,306.0 1090.2,310.1 1090.5,314.1 1090.7,318.0 1090.9,321.7 1091.2,325.3 1091.4,328.8 1091.6,332.2 1091.8,335.6 1092.1,338.8 1092.4,342.0 1092.7,345.0 1093.1,348.0 1093.6,350.9 1094.1,353.7 1094.6,356.4 1095.1,359.0 1095.7,361.5 1096.2,363.8 1096.7,366.0 1097.2,368.0 1097.6,369.9 1098.0,371.6 1098.4,373.3 1098.8,374.8 1099.3,376.2 1099.9,377.6 1100.7,379.0 1101.6,380.3 1102.6,381.6 1103.6,382.9 1104.8,384.0 1106.0,385.1 1107.3,386.1 1108.6,387.0 1110.0,387.8 1111.4,388.5 1112.7,389.0 1114.1,389.5 1115.6,389.9 1117.2,390.2 1118.9,390.5 1121.0,390.7 1123.3,391.0 1125.9,391.2 1128.8,391.4 1132.0,391.5 1135.3,391.7 1138.8,391.7 1142.4,391.8 1146.2,391.9 1150.0,392.0 1154.2,392.1 1158.9,392.2 1164.0,392.3 1169.0,392.4 1173.9,392.5 1178.3,392.6 1182.0,392.6 1184.7,392.7" fill="none" stroke="#008080" stroke-width="2.00" stroke-linejoin="round" stroke-linecap="round" />
<path d="M642.0,226.6L642.5,226.6 643.1,226.7 643.8,226.8 644.6,226.8 645.5,226.9 646.4,227.0 647.2,227.1 648.0,227.1 648.8,227.2 649.5,227.3 650.2,227.3 651.0,227.4 651.8,227.5 652.5,227.5 653.2,227.6 654.0,227.7 654.8,227.7 655.5,227.8 656.2,227.9 657.0,227.9 657.8,228.0 658.5,228.1 659.2,228.2 660.0,228.2 660.8,228.3 661.5,228.4 662.2,228.5 663.0,228.6 663.8,228.7 664.5,228.7 665.2,228.8 666.0,228.9 666.8,229.1 667.5,229.2 668.2,229.3 669.0,229.4 669.8,229.5 670.5,229.7 671.2,229.8 672.0,230.0 672.8,230.1 673.5,230.3 674.2,230.4 675.0,230.6 675.8,230.8 676.5,231.0 677.2,231.1 678.0,231.3 678.8,231.5 679.5,231.7 680.2,231.9 681.0,232.1 681.8,232.4 682.5,232.6 683.2,232.8 684.0,233.0 684.8,233.2 685.5,233.4 686.2,233.7 687.0,233.9 687.8,234.1 688.5,234.3 689.2,234.5 690.0,234.8 690.8,235.0 691.5,235.2 692.2,235.5 693.0,235.7 693.8,235.9 694.5,236.1 695.2,236.4 696.0,236.6 696.8,236.8 697.5,237.1 698.2,237.3 699.0,237.5 699.8,237.7 700.5,238.0 701.2,238.2 702.0,238.4 702.8,238.6 703.5,238.9 704.2,239.1 705.0,239.3 705.8,239.5 706.5,239.8 707.2,240.0 708.0,240.2 708.8,240.4 709.5,240.7 710.2,240.9 711.0,241.1 711.8,241.3 712.5,241.5 713.2,241.8 714.0,242.0 714.8,242.2 715.5,242.4 716.2,242.7 717.0,242.9 717.8,243.1 718.5,243.3 719.2,243.6 720.0,243.8 720.8,244.0 721.5,244.2 722.2,244.5 723.0,244.7 723.8,244.9 724.5,245.1 725.2,245.4 726.0,245.6 726.8,245.8 727.5,246.0 728.2,246.3 729.0,246.5 729.8,246.7 730.5,247.0 731.2,247.2 732.0,247.4 732.8,247.6 733.5,247.9 734.2,248.1 735.0,248.3 735.8,248.6 736.5,248.8 737.2,249.0 738.0,249.2 738.8,249.5 739.5,249.7 740.2,249.9 741.0,250.1 741.8,250.4 742.5,250.6 743.2,250.8 744.0,251.0 744.8,251.2 745.5,251.4 746.2,251.6 747.0,251.8 747.8,252.0 748.5,252.2 749.2,252.4 750.0,252.6 750.8,252.8 751.5,253.0 752.2,253.2 753.0,253.4 753.8,253.6 754.5,253.8 755.2,253.9 756.0,254.1 756.8,254.3 757.5,254.5 758.2,254.7 759.0,254.8 759.8,255.0 760.5,255.2 761.2,255.4 762.0,255.6 762.8,255.8 763.5,255.9 764.2,256.1 765.0,256.3 765.8,256.5 766.5,256.7 767.2,256.9 768.0,257.1 768.8,257.3 769.5,257.6 770.2,257.8 771.0,258.0 771.8,258.3 772.5,258.5 773.2,258.8 774.0,259.0 774.8,259.3 775.5,259.5 776.2,259.8 777.0,260.1 777.8,260.3 778.5,260.6 779.2,260.9 780.0,261.3 780.8,261.7 781.5,262.1 782.2,262.6 783.0,263.0 783.8,263.5 784.5,264.0 785.2,264.5 786.0,264.9 786.8,265.3 787.5,265.7 788.2,266.1 789.0,266.5 789.8,266.9 790.5,267.3 791.2,267.7 792.0,268.1 792.8,268.5 793.5,268.9 794.2,269.3 795.0,269.7 795.8,270.1 796.5,270.4 797.2,270.8 798.0,271.2 798.8,271.6 799.5,272.1 800.2,272.5 801.0,272.9 801.8,273.3 802.5,273.7 803.2,274.1 804.0,274.6 804.8,275.0 805.5,275.4 806.2,275.9 807.0,276.3 807.8,276.8 808.5,277.2 809.2,277.6 810.0,278.0 810.8,278.4 811.5,278.7 812.2,279.1 813.0,279.4 813.8,279.8 814.5,280.1 815.2,280.4 816.0,280.7 816.8,281.0 817.5,281.2 818.2,281.5 819.0,281.7 819.8,282.0 820.5,282.2 821.2,282.4 822.0,282.7 822.8,282.9 823.5,283.1 824.2,283.3 825.0,283.5 825.8,283.8 826.5,284.0 827.2,284.2 828.0,284.3 828.8,284.5 829.5,284.7 830.2,284.9 831.0,285.1 831.8,285.3 832.5,285.4 833.2,285.6 834.0,285.8 834.8,285.9 835.5,286.1 836.2,286.2 837.0,286.4 837.8,286.5 838.5,286.7 839.2,286.8 840.0,287.0 840.8,287.2 841.5,287.3 842.3,287.5 843.1,287.6 843.9,287.8 844.6,288.0 845.3,288.1 846.0,288.2 846.6,288.3 847.0,288.4 847.4,288.5 847.8,288.6 848.1,288.6 848.6,288.7 849.2,288.9 850.0,289.0 850.9,289.2 851.8,289.5 852.9,289.8 854.0,290.1 855.3,290.4 856.7,290.7 858.2,291.0 860.0,291.2 862.0,291.4 864.3,291.6 866.9,291.8 869.5,292.0 872.2,292.2 874.9,292.3 877.5,292.5 880.0,292.6 882.4,292.7 884.8,292.8 887.2,292.9 889.5,293.0 891.8,293.0 894.0,293.0 896.1,293.0 898.0,293.0 899.7,292.9 901.2,292.7 902.6,292.5 903.9,292.3 905.2,292.1 906.6,291.9 908.2,291.8 910.0,291.8 912.1,291.9 914.4,292.0 916.9,292.1 919.5,292.3 922.1,292.5 924.8,292.8 927.4,293.0 930.0,293.3 932.5,293.6 935.2,293.9 937.8,294.2 940.4,294.6 943.0,295.0 945.5,295.3 947.8,295.7 950.0,296.0 952.0,296.3 953.8,296.6 955.5,296.9 957.1,297.2 958.6,297.5 960.1,297.8 961.7,298.0 963.3,298.2 965.0,298.4 966.6,298.6 968.3,298.7 970.0,298.9 971.7,299.0 973.4,299.1 975.0,299.1 976.7,299.0 978.4,298.9 980.1,298.8 981.9,298.6 983.6,298.4 985.3,298.1 987.0,297.7 988.5,297.3 990.0,296.7 991.4,296.0 992.7,295.3 993.9,294.4 995.1,293.4 996.2,292.4 997.3,291.4 998.3,290.4 999.3,289.3 1000.3,288.2 1001.2,287.1 1002.1,285.9 1003.0,284.7 1003.8,283.5 1004.6,282.3 1005.3,281.1 1006.0,280.0 1006.6,279.0 1007.1,278.2 1007.6,277.4 1008.0,276.7 1008.5,275.9 1008.9,274.8 1009.4,273.6 1010.0,272.0 1010.6,270.1 1011.3,268.1 1012.1,265.8 1012.8,263.4 1013.6,260.7 1014.4,257.9 1015.1,254.9 1015.9,251.6 1016.6,248.1 1017.4,244.2 1018.1,240.1 1018.9,235.8 1019.6,231.4 1020.3,227.0 1021.1,222.5 1021.8,218.2 1022.5,213.8 1023.3,209.3 1024.0,204.8 1024.7,200.2 1025.4,195.7 1026.1,191.3 1026.9,187.0 1027.6,183.0 1028.3,179.1 1029.1,175.1 1029.9,171.3 1030.6,167.5 1031.4,164.0 1032.1,160.8 1032.8,157.9 1033.5,155.5 1034.1,153.4 1034.7,151.6 1035.3,150.1 1035.8,148.8 1036.3,148.0 1036.9,147.5 1037.4,147.4 1038.0,147.8 1038.6,148.7 1039.3,150.0 1039.9,151.8 1040.6,154.0 1041.2,156.5 1041.9,159.2 1042.6,162.2 1043.3,165.3 1044.0,168.7 1044.7,172.3 1045.5,176.3 1046.2,180.5 1047.0,184.8 1047.7,189.3 1048.5,194.0 1049.2,198.6 1049.9,203.4 1050.7,208.4 1051.4,213.6 1052.2,218.8 1052.9,224.1 1053.6,229.5 1054.4,234.7 1055.1,239.8 1055.8,244.9 1056.6,249.9 1057.3,255.0 1058.1,260.0 1058.8,265.0 1059.6,269.8 1060.3,274.5 1061.0,279.0 1061.7,283.3 1062.4,287.5 1063.1,291.6 1063.8,295.5 1064.5,299.3 1065.1,303.0 1065.8,306.6 1066.5,310.0 1067.2,313.3 1067.9,316.5 1068.5,319.5 1069.2,322.4 1069.9,325.2 1070.6,327.9 1071.3,330.5 1072.0,333.0 1072.7,335.4 1073.5,337.6 1074.2,339.7 1075.0,341.8 1075.8,343.7 1076.5,345.5 1077.3,347.3 1078.0,349.0 1078.7,350.6 1079.3,352.0 1079.9,353.3 1080.5,354.6 1081.1,355.8 1081.8,357.1 1082.5,358.5 1083.3,360.0 1084.2,361.7 1085.1,363.7 1086.1,365.7 1087.1,367.7 1088.2,369.8 1089.2,371.7 1090.3,373.5 1091.3,375.0 1092.3,376.3 1093.2,377.4 1094.2,378.4 1095.1,379.3 1096.1,380.1 1097.1,380.8 1098.2,381.5 1099.3,382.2 1100.4,382.8 1101.4,383.4 1102.4,383.8 1103.5,384.2 1104.7,384.6 1106.1,385.0 1107.9,385.4 1110.0,385.8 1112.4,386.2 1115.1,386.7 1117.9,387.2 1121.0,387.6 1124.4,388.1 1128.2,388.5 1132.2,388.9 1136.7,389.3 1142.0,389.7 1148.3,390.1 1155.2,390.4 1162.4,390.8 1169.3,391.1 1175.6,391.4 1180.9,391.6 1184.7,391.8" fill="none" stroke="#ff00ff" stroke-width="2.00" stroke-linejoin="round" stroke-linecap="round" />
<path d="M642.0,226.6L643.7,226.8 646.1,227.0 648.8,227.2 651.9,227.5 655.1,227.8 658.2,228.1 661.0,228.3 663.3,228.6 665.2,228.8 666.9,229.1 668.4,229.3 669.8,229.5 671.0,229.8 672.3,230.0 673.6,230.3 675.0,230.6 676.5,230.9 677.9,231.3 679.4,231.7 680.9,232.1 682.3,232.5 683.8,233.0 685.2,233.4 686.7,233.8 688.2,234.2 689.6,234.7 691.1,235.1 692.5,235.5 693.9,236.0 695.4,236.4 696.8,236.9 698.3,237.3 699.8,237.7 701.2,238.2 702.7,238.6 704.1,239.1 705.6,239.5 707.1,239.9 708.5,240.4 710.0,240.8 711.5,241.2 712.9,241.7 714.4,242.1 715.9,242.6 717.3,243.0 718.8,243.4 720.2,243.9 721.7,244.3 723.2,244.7 724.6,245.2 726.1,245.6 727.5,246.1 728.9,246.5 730.4,246.9 731.8,247.4 733.3,247.8 734.8,248.2 736.2,248.7 737.7,249.1 739.1,249.6 740.6,250.0 742.1,250.5 743.5,250.9 745.0,251.3 746.5,251.7 747.9,252.1 749.4,252.5 750.9,252.8 752.3,253.2 753.8,253.6 755.2,253.9 756.7,254.3 758.2,254.7 759.6,255.0 761.1,255.3 762.5,255.7 763.9,256.0 765.4,256.4 766.8,256.8 768.3,257.2 769.8,257.7 771.3,258.1 772.9,258.7 774.5,259.2 776.0,259.7 777.4,260.3 778.8,260.8 780.0,261.3 781.0,261.8 781.9,262.2 782.6,262.7 783.3,263.1 783.9,263.6 784.7,264.1 785.6,264.7 786.7,265.3 788.0,266.0 789.6,266.8 791.2,267.7 792.9,268.6 794.7,269.5 796.5,270.5 798.3,271.4 800.0,272.3 801.7,273.2 803.3,274.2 805.0,275.1 806.6,276.1 808.3,277.1 810.0,278.0 811.6,278.8 813.3,279.6 815.0,280.3 816.6,280.9 818.3,281.5 820.0,282.1 821.7,282.6 823.4,283.1 825.0,283.5 826.7,284.0 828.3,284.4 829.9,284.8 831.4,285.2 833.0,285.6 834.6,285.9 836.3,286.2 838.1,286.6 840.0,287.0 842.1,287.4 844.4,287.9 846.7,288.4 849.2,288.9 851.6,289.3 854.1,289.8 856.6,290.2 858.9,290.6 861.1,290.9 863.2,291.2 865.3,291.5 867.3,291.7 869.4,291.9 871.7,292.1 874.1,292.3 876.7,292.5 879.7,292.6 883.0,292.8 886.6,292.9 890.3,292.9 893.9,293.0 897.4,293.1 900.5,293.2 903.3,293.3 905.6,293.4 907.6,293.6 909.3,293.7 910.8,293.9 912.3,294.1 913.7,294.3 915.1,294.5 916.7,294.7 918.4,295.0 920.0,295.2 921.7,295.5 923.4,295.8 925.0,296.2 926.7,296.5 928.3,296.9 930.0,297.3 931.7,297.7 933.3,298.2 935.0,298.7 936.6,299.2 938.3,299.7 940.0,300.3 941.6,300.8 943.3,301.3 945.0,301.8 946.6,302.3 948.3,302.8 950.0,303.3 951.7,303.8 953.4,304.3 955.0,304.8 956.7,305.3 958.4,305.7 960.0,306.2 961.6,306.6 963.3,307.0 964.9,307.4 966.6,307.8 968.3,308.2 970.0,308.7 971.8,309.2 973.6,309.7 975.5,310.3 977.4,310.8 979.3,311.4 981.2,311.9 983.1,312.5 985.0,313.0 986.9,313.5 988.8,314.0 990.8,314.5 992.7,315.0 994.6,315.5 996.5,316.0 998.3,316.5 1000.0,317.0 1001.6,317.5 1003.2,317.9 1004.7,318.3 1006.2,318.7 1007.6,319.2 1009.1,319.7 1010.5,320.3 1012.0,321.0 1013.5,321.8 1015.0,322.7 1016.4,323.6 1017.9,324.6 1019.4,325.6 1020.8,326.7 1022.3,327.9 1023.8,329.1 1025.3,330.4 1026.9,331.8 1028.6,333.2 1030.2,334.8 1031.8,336.3 1033.3,337.8 1034.7,339.2 1036.0,340.5 1037.2,341.7 1038.2,342.9 1039.1,344.0 1040.0,345.1 1040.8,346.2 1041.6,347.2 1042.4,348.2 1043.3,349.3 1044.2,350.4 1045.0,351.4 1045.9,352.5 1046.7,353.5 1047.5,354.6 1048.3,355.6 1049.2,356.6 1050.0,357.5 1050.8,358.4 1051.7,359.3 1052.5,360.1 1053.4,361.0 1054.2,361.8 1055.1,362.6 1055.9,363.3 1056.7,364.0 1057.5,364.7 1058.3,365.3 1059.1,365.8 1059.8,366.4 1060.6,366.9 1061.4,367.4 1062.2,368.0 1063.0,368.5 1063.8,369.0 1064.7,369.6 1065.6,370.1 1066.5,370.6 1067.4,371.2 1068.3,371.7 1069.1,372.2 1070.0,372.7 1070.9,373.2 1071.7,373.6 1072.5,374.1 1073.4,374.5 1074.2,375.0 1075.0,375.5 1075.9,376.0 1076.7,376.7 1077.5,377.5 1078.4,378.3 1079.2,379.3 1080.0,380.2 1080.8,381.2 1081.6,382.2 1082.5,383.1 1083.3,384.0 1084.1,384.8 1085.0,385.7 1085.8,386.5 1086.6,387.3 1087.5,388.0 1088.3,388.8 1089.2,389.4 1090.0,390.0 1090.8,390.5 1091.5,390.9 1092.2,391.3 1092.9,391.6 1093.7,391.9 1094.6,392.2 1095.5,392.5 1096.7,392.7 1098.0,392.9 1099.2,393.1 1100.6,393.3 1102.1,393.5 1103.7,393.6 1105.6,393.8 1107.7,393.9 1110.0,394.0 1112.6,394.1 1115.2,394.2 1118.1,394.3 1121.2,394.4 1124.5,394.5 1128.2,394.5 1132.3,394.6 1136.7,394.7 1142.0,394.8 1148.3,394.9 1155.2,395.0 1162.4,395.0 1169.3,395.1 1175.6,395.2 1180.9,395.3 1184.7,395.3" fill="none" stroke="#e8203c" stroke-width="2.40" stroke-linejoin="round" stroke-linecap="round" />
<path d="M642.0,224.9L643.7,225.0 646.1,225.1 648.8,225.3 651.9,225.5 655.1,225.7 658.2,225.9 661.0,226.1 663.3,226.3 665.2,226.5 666.9,226.7 668.4,226.9 669.8,227.1 671.0,227.3 672.3,227.5 673.6,227.7 675.0,228.0 676.5,228.3 677.9,228.6 679.4,229.0 680.9,229.4 682.3,229.8 683.8,230.1 685.2,230.5 686.7,230.9 688.2,231.3 689.6,231.6 691.1,232.0 692.5,232.3 693.9,232.7 695.4,233.1 696.8,233.4 698.3,233.8 699.8,234.2 701.2,234.6 702.7,234.9 704.1,235.3 705.6,235.7 707.1,236.1 708.5,236.5 710.0,236.8 711.5,237.1 712.9,237.4 714.4,237.7 715.9,238.0 717.3,238.3 718.8,238.6 720.2,238.9 721.7,239.1 723.2,239.3 724.7,239.6 726.2,239.8 727.6,240.0 729.1,240.2 730.6,240.3 732.0,240.5 733.3,240.6 734.6,240.7 735.8,240.8 737.0,240.8 738.2,240.9 739.4,240.9 740.5,240.9 741.6,240.8 742.7,240.8 743.8,240.7 744.7,240.7 745.7,240.6 746.6,240.6 747.6,240.4 748.6,240.3 749.6,240.0 750.8,239.7 752.1,239.3 753.6,238.9 755.1,238.4 756.7,237.8 758.3,237.2 759.8,236.6 761.2,235.8 762.5,235.0 763.7,234.1 764.7,233.0 765.8,231.8 766.7,230.6 767.6,229.4 768.5,228.2 769.2,227.0 770.0,226.0 770.7,225.1 771.3,224.4 771.8,223.7 772.3,223.0 772.7,222.4 773.2,221.6 773.7,220.8 774.2,219.8 774.8,218.6 775.4,217.3 776.0,215.8 776.6,214.3 777.2,212.8 777.8,211.2 778.4,209.8 779.0,208.5 779.5,207.3 780.1,206.3 780.6,205.3 781.1,204.4 781.6,203.5 782.1,202.4 782.7,201.3 783.3,200.0 784.0,198.5 784.7,196.8 785.5,194.9 786.2,193.0 787.0,191.1 787.9,189.2 788.7,187.6 789.5,186.1 790.3,184.8 791.2,183.5 792.0,182.2 792.9,181.1 793.8,180.2 794.6,179.4 795.5,179.0 796.3,178.8 797.1,179.0 797.9,179.4 798.7,180.2 799.5,181.1 800.3,182.2 801.1,183.5 801.9,184.8 802.6,186.1 803.3,187.5 804.0,189.0 804.7,190.6 805.4,192.3 806.0,194.1 806.7,196.0 807.3,198.0 808.0,200.0 808.7,202.1 809.3,204.3 809.9,206.7 810.6,209.1 811.2,211.5 811.9,214.0 812.6,216.5 813.3,219.0 814.1,221.6 814.9,224.2 815.7,226.9 816.6,229.7 817.4,232.4 818.3,235.1 819.2,237.6 820.0,240.0 820.8,242.3 821.7,244.5 822.5,246.6 823.4,248.6 824.2,250.6 825.0,252.5 825.9,254.3 826.7,256.0 827.5,257.6 828.4,259.2 829.2,260.6 830.0,262.0 830.8,263.3 831.6,264.5 832.5,265.6 833.3,266.7 834.1,267.6 834.8,268.4 835.6,269.0 836.3,269.6 837.1,270.2 837.9,270.8 838.9,271.6 840.0,272.5 841.3,273.6 842.7,274.9 844.2,276.4 845.8,277.8 847.5,279.3 849.1,280.7 850.8,281.9 852.4,283.0 854.0,283.9 855.6,284.6 857.2,285.3 858.8,285.8 860.4,286.3 862.0,286.7 863.7,287.2 865.4,287.6 867.1,288.0 868.8,288.4 870.5,288.7 872.3,289.0 874.1,289.3 875.9,289.5 877.9,289.8 880.0,290.0 882.3,290.2 884.7,290.4 887.2,290.5 889.9,290.7 892.5,290.8 895.1,290.9 897.6,291.1 900.0,291.3 902.3,291.5 904.5,291.8 906.7,292.0 908.8,292.3 910.8,292.6 912.8,292.9 914.8,293.2 916.7,293.5 918.5,293.8 920.3,294.1 921.9,294.4 923.6,294.7 925.2,295.1 926.8,295.4 928.4,295.8 930.0,296.2 931.7,296.6 933.3,297.1 935.0,297.6 936.6,298.1 938.3,298.6 940.0,299.2 941.6,299.7 943.3,300.2 945.0,300.7 946.6,301.2 948.3,301.8 950.0,302.3 951.7,302.8 953.4,303.3 955.0,303.8 956.7,304.3 958.4,304.8 960.0,305.2 961.6,305.6 963.3,306.0 964.9,306.4 966.6,306.9 968.3,307.3 970.0,307.8 971.8,308.3 973.6,308.8 975.5,309.4 977.4,310.0 979.3,310.5 981.2,311.1 983.1,311.7 985.0,312.2 986.9,312.7 988.8,313.3 990.8,313.8 992.7,314.3 994.6,314.8 996.5,315.3 998.3,315.8 1000.0,316.3 1001.7,316.8 1003.4,317.3 1005.0,317.8 1006.6,318.2 1008.1,318.7 1009.5,319.2 1010.8,319.6 1012.0,320.1 1013.0,320.6 1013.9,321.0 1014.7,321.4 1015.4,321.9 1016.0,322.3 1016.6,322.8 1017.3,323.3 1018.0,323.8 1018.8,324.3 1019.5,324.8 1020.2,325.4 1021.0,326.0 1021.8,326.5 1022.5,327.1 1023.2,327.8 1024.0,328.4 1024.8,329.0 1025.5,329.6 1026.2,330.3 1027.0,330.9 1027.8,331.6 1028.5,332.3 1029.2,333.0 1030.0,333.7 1030.8,334.4 1031.5,335.1 1032.2,335.8 1033.0,336.5 1033.8,337.3 1034.5,338.0 1035.2,338.8 1036.0,339.6 1036.8,340.4 1037.5,341.3 1038.2,342.2 1039.0,343.1 1039.8,344.0 1040.5,344.9 1041.2,345.9 1042.0,346.8 1042.8,347.7 1043.5,348.6 1044.2,349.6 1045.0,350.6 1045.8,351.5 1046.5,352.5 1047.2,353.4 1048.0,354.3 1048.8,355.1 1049.5,356.0 1050.2,356.8 1051.0,357.6 1051.8,358.4 1052.5,359.2 1053.2,360.0 1054.0,360.7 1054.8,361.4 1055.5,362.0 1056.2,362.7 1057.0,363.3 1057.8,363.9 1058.5,364.5 1059.2,365.1 1060.0,365.6 1060.8,366.1 1061.5,366.7 1062.2,367.1 1063.0,367.6 1063.8,368.1 1064.5,368.5 1065.2,369.0 1066.0,369.5 1066.8,369.9 1067.5,370.3 1068.2,370.7 1069.0,371.2 1069.8,371.6 1070.5,372.0 1071.2,372.4 1072.0,372.9 1072.8,373.4 1073.5,373.8 1074.2,374.3 1075.0,374.8 1075.8,375.3 1076.5,375.8 1077.2,376.4 1078.0,377.1 1078.8,377.8 1079.5,378.6 1080.2,379.5 1081.0,380.4 1081.8,381.3 1082.5,382.2 1083.2,383.0 1084.0,383.8 1084.8,384.6 1085.5,385.3 1086.2,386.0 1087.0,386.7 1087.8,387.4 1088.5,388.0 1089.2,388.6 1090.0,389.1 1090.8,389.6 1091.5,390.0 1092.2,390.3 1093.0,390.6 1093.8,390.9 1094.5,391.2 1095.2,391.4 1096.0,391.6 1096.8,391.8 1097.5,392.0 1098.2,392.1 1099.0,392.2 1099.8,392.3 1100.5,392.4 1101.2,392.5 1102.0,392.6 1102.8,392.6 1103.5,392.7 1104.2,392.8 1105.0,392.8 1105.8,392.9 1106.5,392.9 1107.2,393.0 1108.0,393.0 1108.8,393.0 1109.5,393.1 1110.2,393.1 1111.0,393.1 1111.8,393.2 1112.5,393.2 1113.2,393.2 1114.0,393.3 1114.8,393.3 1115.5,393.3 1116.2,393.4 1117.0,393.4 1117.8,393.4 1118.5,393.4 1119.2,393.4 1120.0,393.5 1120.8,393.5 1121.5,393.5 1122.2,393.5 1123.0,393.5 1123.8,393.6 1124.5,393.6 1125.2,393.6 1126.0,393.6 1126.8,393.6 1127.5,393.6 1128.2,393.6 1129.0,393.7 1129.8,393.7 1130.5,393.7 1131.2,393.7 1132.0,393.7 1132.8,393.7 1133.5,393.7 1134.2,393.8 1135.0,393.8 1135.8,393.8 1136.5,393.8 1137.2,393.8 1138.0,393.8 1138.8,393.8 1139.5,393.8 1140.2,393.9 1141.0,393.9 1141.8,393.9 1142.5,393.9 1143.2,393.9 1144.0,393.9 1144.8,393.9 1145.5,393.9 1146.2,393.9 1147.0,394.0 1147.8,394.0 1148.5,394.0 1149.2,394.0 1150.0,394.0 1150.8,394.0 1151.5,394.0 1152.2,394.0 1153.0,394.0 1153.8,394.0 1154.5,394.0 1155.2,394.1 1156.0,394.1 1156.8,394.1 1157.5,394.1 1158.2,394.1 1159.0,394.1 1159.8,394.1 1160.5,394.1 1161.2,394.1 1162.0,394.1 1162.8,394.1 1163.5,394.2 1164.2,394.2 1165.0,394.2 1165.8,394.2 1166.5,394.2 1167.2,394.2 1168.0,394.2 1168.8,394.2 1169.5,394.2 1170.2,394.2 1171.0,394.2 1171.8,394.3 1172.5,394.3 1173.2,394.3 1174.0,394.3 1174.8,394.3 1175.5,394.3 1176.3,394.3 1177.1,394.3 1177.9,394.3 1178.6,394.3 1179.3,394.3 1180.0,394.3 1180.7,394.4 1181.3,394.4 1182.0,394.4 1182.6,394.4 1183.2,394.4 1183.7,394.4 1184.2,394.4 1184.5,394.4" fill="none" stroke="#000080" stroke-width="2.00" stroke-linejoin="round" stroke-linecap="round" />
<path d="M642.0,218.0L643.4,217.6 645.2,217.0 647.3,216.4 649.8,215.6 652.3,214.8 654.9,213.9 657.5,213.0 660.0,212.0 662.4,210.9 665.0,209.7 667.6,208.5 670.2,207.1 672.8,205.8 675.3,204.5 677.7,203.2 680.0,202.0 682.1,200.9 684.1,199.8 685.9,198.7 687.8,197.6 689.5,196.6 691.3,195.7 693.1,194.8 695.0,194.0 697.0,193.2 699.1,192.5 701.2,191.8 703.4,191.2 705.5,190.7 707.5,190.2 709.3,189.9 711.0,189.8 712.5,189.8 713.7,189.9 714.8,190.2 715.9,190.6 716.9,191.1 717.8,191.6 718.9,192.3 720.0,193.0 721.2,193.8 722.4,194.8 723.7,195.8 724.9,196.9 726.2,198.2 727.5,199.4 728.7,200.7 730.0,202.0 731.2,203.3 732.4,204.7 733.6,206.1 734.8,207.6 736.0,209.1 737.3,210.7 738.6,212.3 740.0,214.0 741.5,215.8 743.1,217.7 744.7,219.6 746.4,221.7 748.2,223.7 749.9,225.6 751.6,227.5 753.3,229.3 755.0,231.0 756.6,232.6 758.3,234.2 760.0,235.7 761.7,237.1 763.4,238.6 765.0,239.9 766.7,241.3 768.4,242.6 770.0,243.8 771.7,245.0 773.4,246.2 775.0,247.3 776.7,248.4 778.3,249.5 780.0,250.7 781.7,251.9 783.3,253.0 785.0,254.1 786.6,255.3 788.3,256.4 790.0,257.6 791.6,258.8 793.3,260.0 795.0,261.3 796.6,262.7 798.3,264.1 800.0,265.5 801.7,266.9 803.4,268.2 805.0,269.5 806.7,270.7 808.4,271.8 810.0,272.9 811.7,273.9 813.4,274.9 815.0,275.8 816.7,276.7 818.3,277.5 820.0,278.2 821.7,278.9 823.5,279.4 825.3,280.0 827.1,280.4 828.8,280.8 830.4,281.2 832.0,281.6 833.3,282.0 834.4,282.3 835.2,282.6 835.8,282.9 836.3,283.1 836.9,283.3 837.6,283.6 838.6,283.9 840.0,284.3 841.8,284.8 843.8,285.4 846.1,286.1 848.5,286.8 851.1,287.5 853.7,288.2 856.3,288.8 858.9,289.3 861.4,289.7 864.0,290.1 866.6,290.5 869.2,290.8 871.9,291.0 874.5,291.3 877.3,291.5 880.0,291.7 882.9,291.9 885.9,292.0 889.0,292.1 892.1,292.2 895.1,292.3 898.0,292.4 900.6,292.5 903.0,292.6 905.1,292.7 906.9,292.9 908.6,293.1 910.1,293.3 911.4,293.5 912.7,293.6 913.9,293.8 915.0,293.9 916.0,294.1 916.9,294.2 917.7,294.3 918.4,294.4 919.0,294.5 919.6,294.7 920.3,294.8 921.0,294.9 921.8,295.0 922.5,295.2 923.2,295.3 924.0,295.5 924.8,295.6 925.5,295.8 926.2,295.9 927.0,296.1 927.8,296.3 928.5,296.4 929.2,296.6 930.0,296.8 930.8,297.0 931.5,297.2 932.2,297.4 933.0,297.6 933.8,297.8 934.5,298.0 935.2,298.3 936.0,298.5 936.8,298.8 937.5,299.0 938.2,299.2 939.0,299.5 939.8,299.7 940.5,299.9 941.2,300.2 942.0,300.4 942.8,300.6 943.5,300.9 944.2,301.1 945.0,301.3 945.8,301.5 946.5,301.8 947.2,302.0 948.0,302.2 948.8,302.5 949.5,302.7 950.2,302.9 951.0,303.1 951.8,303.4 952.5,303.6 953.2,303.8 954.0,304.0 954.8,304.2 955.5,304.5 956.2,304.7 957.0,304.9 957.8,305.1 958.5,305.3 959.2,305.5 960.0,305.7 960.8,305.9 961.5,306.0 962.2,306.2 963.0,306.4 963.8,306.6 964.5,306.8 965.2,307.0 966.0,307.2 966.8,307.4 967.5,307.5 968.2,307.7 969.0,307.9 969.8,308.1 970.5,308.3 971.2,308.5 972.0,308.8 972.8,309.0 973.5,309.2 974.2,309.4 975.0,309.6 975.8,309.8 976.5,310.0 977.2,310.3 978.0,310.5 978.8,310.7 979.5,310.9 980.2,311.1 981.0,311.4 981.8,311.6 982.5,311.8 983.2,312.0 984.0,312.2 984.8,312.4 985.5,312.6 986.2,312.8 987.0,313.0 987.8,313.2 988.5,313.4 989.2,313.6 990.0,313.8 990.8,314.0 991.5,314.2 992.2,314.4 993.0,314.6 993.8,314.8 994.5,315.0 995.2,315.2 996.0,315.4 996.8,315.6 997.5,315.8 998.2,316.0 999.0,316.2 999.8,316.4 1000.5,316.6 1001.2,316.8 1002.0,317.0 1002.8,317.2 1003.5,317.4 1004.2,317.7 1005.0,317.9 1005.8,318.1 1006.5,318.4 1007.2,318.6 1008.0,318.9 1008.8,319.1 1009.5,319.4 1010.2,319.7 1011.0,320.0 1011.8,320.4 1012.5,320.8 1013.2,321.2 1014.0,321.6 1014.8,322.1 1015.5,322.5 1016.2,323.0 1017.0,323.5 1017.8,324.0 1018.5,324.5 1019.2,325.1 1020.0,325.6 1020.8,326.2 1021.5,326.8 1022.2,327.4 1023.0,328.0 1023.8,328.6 1024.5,329.2 1025.2,329.8 1026.0,330.5 1026.8,331.1 1027.5,331.8 1028.2,332.5 1029.0,333.2 1029.8,333.8 1030.5,334.5 1031.2,335.2 1032.0,336.0 1032.8,336.7 1033.5,337.4 1034.2,338.2 1035.0,339.0 1035.8,339.8 1036.5,340.6 1037.2,341.5 1038.0,342.3 1038.8,343.2 1039.5,344.1 1040.2,345.0 1041.0,345.9 1041.8,346.8 1042.5,347.8 1043.2,348.7 1044.0,349.7 1044.8,350.6 1045.5,351.6 1046.2,352.5 1047.0,353.4 1047.8,354.3 1048.5,355.2 1049.2,356.1 1050.0,356.9 1050.8,357.8 1051.5,358.6 1052.2,359.4 1053.0,360.1 1053.8,360.8 1054.5,361.5 1055.2,362.2 1056.0,362.9 1056.8,363.5 1057.5,364.1 1058.2,364.7 1059.0,365.3 1059.8,365.9 1060.5,366.4 1061.2,366.9 1062.0,367.4 1062.8,367.9 1063.5,368.3 1064.2,368.8 1065.0,369.3 1065.8,369.7 1066.5,370.2 1067.2,370.6 1068.0,371.0 1068.8,371.5 1069.5,371.9 1070.2,372.3 1071.0,372.8 1071.8,373.2 1072.5,373.6 1073.2,374.0 1074.0,374.4 1074.8,374.9 1075.5,375.3 1076.2,375.9 1077.0,376.5 1077.8,377.2 1078.5,378.0 1079.2,378.8 1080.0,379.7 1080.8,380.6 1081.5,381.5 1082.2,382.4 1083.0,383.2 1083.8,384.0 1084.5,384.7 1085.2,385.5 1086.0,386.2 1086.8,386.9 1087.5,387.6 1088.2,388.2 1089.0,388.8 1089.8,389.3 1090.5,389.8 1091.2,390.2 1092.0,390.6 1092.8,390.9 1093.5,391.3 1094.2,391.5 1095.0,391.8 1095.8,392.0 1096.5,392.2 1097.2,392.4 1098.0,392.5 1098.8,392.6 1099.5,392.7 1100.2,392.8 1101.0,392.9 1101.8,392.9 1102.5,393.0 1103.2,393.1 1104.0,393.1 1104.8,393.2 1105.5,393.2 1106.2,393.3 1107.0,393.3 1107.8,393.4 1108.5,393.4 1109.2,393.5 1110.0,393.5 1110.8,393.5 1111.5,393.6 1112.2,393.6 1113.0,393.6 1113.8,393.7 1114.5,393.7 1115.2,393.7 1116.0,393.7 1116.8,393.8 1117.5,393.8 1118.2,393.8 1119.0,393.8 1119.8,393.9 1120.5,393.9 1121.2,393.9 1122.0,393.9 1122.8,393.9 1123.5,393.9 1124.2,394.0 1125.0,394.0 1125.8,394.0 1126.5,394.0 1127.2,394.0 1128.0,394.0 1128.8,394.1 1129.5,394.1 1130.2,394.1 1131.0,394.1 1131.8,394.1 1132.5,394.1 1133.2,394.1 1134.0,394.2 1134.8,394.2 1135.5,394.2 1136.2,394.2 1137.0,394.2 1137.8,394.2 1138.5,394.2 1139.2,394.2 1140.0,394.3 1140.8,394.3 1141.5,394.3 1142.2,394.3 1143.0,394.3 1143.8,394.3 1144.5,394.3 1145.2,394.3 1146.0,394.3 1146.8,394.3 1147.5,394.4 1148.2,394.4 1149.0,394.4 1149.8,394.4 1150.5,394.4 1151.2,394.4 1152.0,394.4 1152.8,394.4 1153.5,394.4 1154.2,394.4 1155.0,394.5 1155.8,394.5 1156.5,394.5 1157.2,394.5 1158.0,394.5 1158.8,394.5 1159.5,394.5 1160.2,394.5 1161.0,394.5 1161.8,394.5 1162.5,394.5 1163.2,394.6 1164.0,394.6 1164.8,394.6 1165.5,394.6 1166.2,394.6 1167.0,394.6 1167.8,394.6 1168.5,394.6 1169.2,394.6 1170.0,394.6 1170.8,394.6 1171.5,394.6 1172.2,394.7 1173.0,394.7 1173.8,394.7 1174.5,394.7 1175.3,394.7 1176.0,394.7 1176.8,394.7 1177.5,394.7 1178.3,394.7 1179.0,394.7 1179.7,394.7 1180.5,394.8 1181.3,394.8 1182.1,394.8 1182.9,394.8 1183.5,394.8 1184.1,394.8 1184.5,394.8" fill="none" stroke="#800000" stroke-width="2.00" stroke-linejoin="round" stroke-linecap="round" />
<path d="M820.0,282.5L820.8,282.6 821.9,282.7 823.3,282.9 824.8,283.1 826.2,283.2 827.7,283.4 829.0,283.5 830.0,283.5 830.8,283.5 831.4,283.5 831.9,283.4 832.3,283.4 832.7,283.3 833.0,283.1 833.5,282.8 834.0,282.5 834.6,282.1 835.2,281.7 835.9,281.2 836.6,280.7 837.3,280.0 838.0,279.3 838.6,278.5 839.3,277.5 840.0,276.3 840.6,275.0 841.3,273.5 842.0,271.9 842.7,270.3 843.3,268.8 843.9,267.3 844.5,266.0 845.0,264.7 845.5,263.4 846.0,262.0 846.4,260.8 846.8,259.7 847.3,258.9 847.7,258.4 848.2,258.4 848.7,258.9 849.2,259.9 849.7,261.2 850.2,262.7 850.7,264.5 851.3,266.4 851.8,268.2 852.4,270.0 853.0,271.8 853.6,273.9 854.3,276.1 854.9,278.3 855.6,280.4 856.3,282.4 856.9,284.2 857.6,285.7 858.2,286.9 858.9,287.8 859.5,288.5 860.1,289.0 860.7,289.5 861.4,289.9 862.1,290.2 862.8,290.6 863.6,291.0 864.4,291.3 865.2,291.5 866.1,291.7 867.0,291.8 868.0,292.0 869.0,292.1 870.0,292.2 871.1,292.3 872.3,292.4 873.5,292.4 874.8,292.5 876.1,292.5 877.4,292.5 878.7,292.6 880.0,292.6 881.3,292.6 882.6,292.7 883.9,292.7 885.2,292.8 886.5,292.8 887.8,292.9 888.9,292.9 890.0,292.9 890.9,293.0 891.8,293.0 892.5,293.0 893.2,293.0 893.9,293.0 894.6,293.0 895.3,293.0 896.0,293.1 896.8,293.1 897.5,293.1 898.2,293.1 899.0,293.1 899.8,293.2 900.5,293.2 901.2,293.2 902.0,293.2 902.8,293.3 903.5,293.3 904.2,293.4 905.0,293.4 905.8,293.4 906.5,293.5 907.2,293.6 908.0,293.6 908.8,293.7 909.5,293.8 910.2,293.8 911.0,293.9 911.8,294.0 912.5,294.1 913.2,294.2 914.0,294.3 914.8,294.4 915.5,294.5 916.2,294.6 917.0,294.7 917.8,294.9 918.5,295.0 919.2,295.1 920.0,295.2 920.8,295.4 921.5,295.5 922.2,295.6 923.0,295.8 923.8,295.9 924.5,296.1 925.2,296.2 926.0,296.4 926.8,296.5 927.5,296.7 928.2,296.9 929.0,297.1 929.8,297.2 930.5,297.4 931.2,297.6 932.0,297.8 932.8,298.0 933.5,298.3 934.2,298.5 935.0,298.7 935.8,298.9 936.5,299.2 937.2,299.4 938.0,299.6 938.8,299.9 939.5,300.1 940.2,300.3 941.0,300.6 941.8,300.8 942.5,301.0 943.2,301.3 944.0,301.5 944.8,301.7 945.5,302.0 946.2,302.2 947.0,302.4 947.8,302.7 948.5,302.9 949.2,303.1 950.0,303.3 950.8,303.6 951.5,303.8 952.2,304.0 953.0,304.2 953.8,304.5 954.5,304.7 955.2,304.9 956.0,305.1 956.8,305.3 957.5,305.5 958.2,305.7 959.0,305.9 959.8,306.1 960.5,306.3 961.2,306.5 962.0,306.7 962.8,306.9 963.5,307.0 964.2,307.2 965.0,307.4 965.8,307.6 966.5,307.8 967.2,308.0 968.0,308.2 968.8,308.4 969.5,308.6 970.2,308.8 971.0,309.0 971.8,309.2 972.5,309.4 973.2,309.6 974.0,309.8 974.8,310.0 975.5,310.3 976.2,310.5 977.0,310.7 977.8,310.9 978.5,311.1 979.2,311.4 980.0,311.6 980.8,311.8 981.5,312.0 982.2,312.2 983.0,312.4 983.8,312.6 984.5,312.9 985.2,313.1 986.0,313.3 986.8,313.5 987.5,313.7 988.2,313.9 989.0,314.1 989.8,314.3 990.5,314.5 991.2,314.6 992.0,314.8 992.8,315.0 993.5,315.2 994.2,315.4 995.0,315.6 995.8,315.8 996.5,316.0 997.2,316.2 998.0,316.4 998.8,316.6 999.5,316.8 1000.2,317.0 1001.0,317.3 1001.8,317.5 1002.5,317.7 1003.2,317.9 1004.0,318.1 1004.8,318.3 1005.5,318.6 1006.2,318.8 1007.0,319.0 1007.8,319.2 1008.5,319.5 1009.2,319.8 1010.0,320.1 1010.8,320.4 1011.5,320.8 1012.2,321.2 1013.0,321.6 1013.8,322.0 1014.5,322.4 1015.2,322.9 1016.0,323.3 1016.8,323.8 1017.5,324.3 1018.2,324.8 1019.0,325.4 1019.8,325.9 1020.5,326.5 1021.2,327.1 1022.0,327.7 1022.8,328.3 1023.5,328.9 1024.2,329.5 1025.0,330.1 1025.8,330.8 1026.5,331.4 1027.2,332.1 1028.0,332.7 1028.8,333.4 1029.5,334.1 1030.2,334.8 1031.0,335.5 1031.8,336.2 1032.5,337.0 1033.2,337.7 1034.0,338.5 1034.8,339.3 1035.5,340.0 1036.2,340.9 1037.0,341.7 1037.8,342.5 1038.5,343.4 1039.2,344.2 1040.0,345.1 1040.8,346.0 1041.5,346.9 1042.2,347.9 1043.0,348.9 1043.8,349.8 1044.5,350.8 1045.2,351.8 1046.0,352.7 1046.8,353.6 1047.5,354.5 1048.2,355.4 1049.0,356.3 1049.8,357.1 1050.5,358.0 1051.2,358.8 1052.0,359.6 1052.8,360.4 1053.5,361.1 1054.2,361.8 1055.0,362.5 1055.8,363.2 1056.5,363.8 1057.2,364.4 1058.0,365.0 1058.8,365.6 1059.5,366.2 1060.2,366.7 1061.0,367.2 1061.8,367.7 1062.5,368.2 1063.2,368.7 1064.0,369.1 1064.8,369.6 1065.5,370.1 1066.2,370.5 1067.0,371.0 1067.8,371.4 1068.5,371.8 1069.2,372.3 1070.0,372.7 1070.8,373.1 1071.5,373.5 1072.2,373.9 1073.0,374.2 1073.8,374.6 1074.5,375.1 1075.2,375.6 1076.0,376.1 1076.8,376.8 1077.5,377.6 1078.2,378.4 1079.0,379.2 1079.8,380.1 1080.5,380.9 1081.2,381.8 1082.0,382.6 1082.8,383.4 1083.5,384.2 1084.2,384.9 1085.0,385.7 1085.8,386.5 1086.5,387.2 1087.2,387.9 1088.0,388.5 1088.8,389.1 1089.5,389.6 1090.2,390.1 1091.0,390.6 1091.8,391.0 1092.5,391.4 1093.2,391.7 1094.0,392.0 1094.8,392.3 1095.5,392.5 1096.2,392.7 1097.0,392.8 1097.8,392.9 1098.5,393.0 1099.2,393.1 1100.0,393.2 1100.8,393.3 1101.5,393.4 1102.2,393.5 1103.0,393.6 1103.8,393.6 1104.5,393.7 1105.2,393.7 1106.0,393.8 1106.8,393.8 1107.5,393.9 1108.2,393.9 1109.0,394.0 1109.8,394.0 1110.5,394.0 1111.2,394.1 1112.0,394.1 1112.8,394.1 1113.5,394.2 1114.2,394.2 1115.0,394.2 1115.8,394.2 1116.5,394.3 1117.2,394.3 1118.0,394.3 1118.8,394.3 1119.5,394.4 1120.2,394.4 1121.0,394.4 1121.8,394.4 1122.5,394.4 1123.2,394.4 1124.0,394.5 1124.8,394.5 1125.5,394.5 1126.2,394.5 1127.0,394.5 1127.8,394.5 1128.5,394.6 1129.2,394.6 1130.0,394.6 1130.8,394.6 1131.5,394.6 1132.2,394.6 1133.0,394.6 1133.8,394.6 1134.5,394.7 1135.2,394.7 1136.0,394.7 1136.8,394.7 1137.5,394.7 1138.2,394.7 1139.0,394.7 1139.8,394.7 1140.5,394.8 1141.2,394.8 1142.0,394.8 1142.8,394.8 1143.5,394.8 1144.2,394.8 1145.0,394.8 1145.8,394.8 1146.5,394.8 1147.2,394.9 1148.0,394.9 1148.8,394.9 1149.5,394.9 1150.2,394.9 1151.0,394.9 1151.8,394.9 1152.5,394.9 1153.2,394.9 1154.0,394.9 1154.8,395.0 1155.5,395.0 1156.2,395.0 1157.0,395.0 1157.8,395.0 1158.5,395.0 1159.2,395.0 1160.0,395.0 1160.8,395.0 1161.5,395.0 1162.2,395.0 1163.0,395.1 1163.8,395.1 1164.5,395.1 1165.2,395.1 1166.0,395.1 1166.8,395.1 1167.5,395.1 1168.2,395.1 1169.0,395.1 1169.8,395.1 1170.5,395.1 1171.2,395.1 1172.0,395.2 1172.8,395.2 1173.5,395.2 1174.2,395.2 1175.0,395.2 1175.8,395.2 1176.5,395.2 1177.2,395.2 1178.0,395.2 1178.8,395.2 1179.6,395.2 1180.5,395.3 1181.3,395.3 1182.2,395.3 1182.9,395.3 1183.5,395.3 1184.0,395.3 1184.3,395.3 1184.5,395.3 1184.6,395.3 1184.6,395.3 1184.6,395.3 1184.5,395.3 1184.5,395.3 1184.5,395.3" fill="none" stroke="#f0303a" stroke-width="1.80" stroke-linejoin="round" stroke-linecap="round" />
<polyline points="642.5,215.5 643.5,214.9 644.5,210.8 645.5,220.9 646.5,221.6 647.5,218.3 648.5,207.8 649.5,217.5 650.5,205.3 651.5,207.6 652.5,213.9 653.5,215.0 654.5,214.4 655.5,210.7 656.5,216.8 657.5,210.0 658.5,210.1 659.5,214.9 660.5,208.6 661.5,208.3 662.5,206.3 663.5,210.4 664.5,210.0 665.5,198.4 666.5,205.5 667.5,209.1 668.5,199.8 669.5,209.8 670.5,214.4 671.5,206.3 672.5,207.0 673.5,200.2 674.5,196.2 675.5,205.3 676.5,192.9 677.5,206.6 678.5,188.6 679.5,197.7 680.5,192.3 681.5,202.7 682.5,199.7 683.5,206.3 684.5,201.4 685.5,190.6 686.5,201.7 687.5,186.5 688.5,196.9 689.5,193.6 690.5,188.2 691.5,196.0 692.5,195.7 693.5,194.8 694.5,189.4 695.5,196.8 696.5,188.2 697.5,197.9 698.5,183.9 699.5,187.8 700.5,194.9 701.5,193.8 702.5,183.9 703.5,193.0 704.5,189.7 705.5,188.5 706.5,186.5 707.5,189.6 708.5,191.1 709.5,197.5 710.5,185.1 711.5,186.3 712.5,184.7 713.5,193.0 714.5,179.8 715.5,186.4 716.5,183.8 717.5,186.8 718.5,199.0 719.5,185.5 720.5,185.9 721.5,173.2 722.5,190.4 723.5,188.8 724.5,195.2 725.5,182.9 726.5,189.5 727.5,195.7 728.5,196.4 729.5,194.4 730.5,194.2 731.5,193.5 732.5,199.3 733.5,197.8 734.5,203.7 735.5,212.8 736.5,205.4 737.5,202.2 738.5,203.5 739.5,194.0 740.5,204.0 741.5,196.7 742.5,209.6 743.5,212.3 744.5,205.3 745.5,211.2 746.5,205.4 747.5,214.5 748.5,202.3 749.5,209.9 750.5,214.1 751.5,219.5 752.5,220.2 753.5,221.7 754.5,211.8 755.5,214.9 756.5,221.6 757.5,203.1 758.5,203.8 759.5,214.1 760.5,214.3 761.5,215.5 762.5,215.2 763.5,223.7 764.5,213.3 765.5,204.9 766.5,203.8 767.5,205.9 768.5,209.9 769.5,208.0 770.5,217.4 771.5,212.7 772.5,206.6 773.5,204.3 774.5,197.3 775.5,207.7 776.5,203.8 777.5,201.5 778.5,191.9 779.5,200.2 780.5,191.3 781.5,186.3 782.5,186.3 783.5,179.8 784.5,183.3 785.5,188.2 786.5,173.3 787.5,180.8 788.5,183.0 789.5,181.5 790.5,183.4 791.5,176.5 792.5,177.9 793.5,171.0 794.5,178.0 795.5,174.0 796.5,167.4 797.5,178.9 798.5,175.6 799.5,169.3 800.5,175.5 801.5,175.7 802.5,172.5 803.5,182.4 804.5,177.3 805.5,195.8 806.5,189.4 807.5,192.1 808.5,200.1 809.5,196.1 810.5,190.6 811.5,201.7 812.5,211.5 813.5,202.2 814.5,211.4 815.5,211.2 816.5,226.0 817.5,214.4 818.5,229.6 819.5,234.9 820.5,226.2 821.5,221.3 822.5,233.1 823.5,233.8 824.5,241.8 825.5,245.8 826.5,244.5 827.5,246.8 828.5,245.7 829.5,249.3 830.5,251.6 831.5,251.4 832.5,256.0 833.5,257.3 834.5,257.7 835.5,248.1 836.5,252.1 837.5,249.5 838.5,250.8 839.5,252.1 840.5,250.5 841.5,255.2 842.5,259.6 843.5,252.5 844.5,257.8 845.5,252.2 846.5,244.7 847.5,241.8 848.5,244.7 849.5,244.2 850.5,252.3 851.5,253.4 852.5,254.9 853.5,263.2 854.5,256.5 855.5,264.5 856.5,268.1 857.5,270.2 858.5,268.6 859.5,268.3 860.5,265.7 861.5,271.0 862.5,270.4 863.5,272.2 864.5,280.0 865.5,278.3 866.5,289.8 867.5,288.6 868.5,282.8 869.5,288.7 870.5,278.4 871.5,287.9 872.5,278.6 873.5,282.9 874.5,287.8 875.5,292.5 876.5,298.4 877.5,286.5 878.5,285.9 879.5,290.8 880.5,293.1 881.5,286.4 882.5,290.4 883.5,291.4 884.5,295.7 885.5,292.4 886.5,289.9 887.5,286.9 888.5,284.8 889.5,291.0 890.5,290.2 891.5,294.0 892.5,291.6 893.5,291.0 894.5,295.2 895.5,288.2 896.5,288.7 897.5,285.8 898.5,288.8 899.5,293.8 900.5,302.6 901.5,298.8 902.5,296.6 903.5,288.6 904.5,295.2 905.5,294.5 906.5,295.9 907.5,293.3 908.5,291.0 909.5,292.1 910.5,289.2 911.5,285.6 912.5,290.5 913.5,281.8 914.5,286.6 915.5,281.6 916.5,290.4 917.5,283.6 918.5,286.2 919.5,281.7 920.5,274.6 921.5,281.4 922.5,272.8 923.5,273.6 924.5,280.4 925.5,272.6 926.5,272.8 927.5,268.5 928.5,263.2 929.5,273.9 930.5,260.4 931.5,269.9 932.5,264.9 933.5,262.8 934.5,262.0 935.5,261.7 936.5,263.5 937.5,257.4 938.5,259.3 939.5,264.0 940.5,257.8 941.5,254.1 942.5,258.8 943.5,261.3 944.5,254.5 945.5,266.5 946.5,252.6 947.5,253.1 948.5,250.6 949.5,251.0 950.5,240.4 951.5,245.6 952.5,241.2 953.5,241.6 954.5,246.9 955.5,245.3 956.5,235.8 957.5,241.9 958.5,240.5 959.5,237.0 960.5,248.0 961.5,241.5 962.5,247.3 963.5,244.6 964.5,240.4 965.5,233.4 966.5,242.9 967.5,243.9 968.5,243.6 969.5,235.5 970.5,248.5 971.5,239.4 972.5,239.7 973.5,254.9 974.5,253.9 975.5,251.0 976.5,257.3 977.5,251.5 978.5,258.3 979.5,253.2 980.5,257.6 981.5,261.1 982.5,262.3 983.5,270.6 984.5,269.5 985.5,267.4 986.5,273.8 987.5,268.4 988.5,261.9 989.5,265.6 990.5,262.9 991.5,269.0 992.5,268.5 993.5,269.6 994.5,272.4 995.5,268.1 996.5,274.3 997.5,271.9 998.5,272.3 999.5,268.4 1000.5,266.2 1001.5,268.8 1002.5,259.6 1003.5,266.5 1004.5,268.5 1005.5,265.6 1006.5,267.7 1007.5,269.2 1008.5,256.7 1009.5,259.7 1010.5,258.8 1011.5,254.3 1012.5,249.9 1013.5,246.8 1014.5,245.1 1015.5,241.3 1016.5,238.6 1017.5,234.2 1018.5,225.2 1019.5,222.5 1020.5,218.8 1021.5,207.5 1022.5,206.0 1023.5,200.0 1024.5,190.1 1025.5,187.2 1026.5,182.5 1027.5,177.7 1028.5,169.9 1029.5,164.0 1030.5,163.1 1031.5,156.1 1032.5,151.2 1033.5,152.1 1034.5,148.2 1035.5,143.2 1036.5,141.9 1037.5,147.0 1038.5,141.6 1039.5,141.7 1040.5,148.0 1041.5,151.0 1042.5,155.0 1043.5,155.9 1044.5,161.9 1045.5,168.6 1046.5,176.6 1047.5,181.9 1048.5,191.4 1049.5,193.4 1050.5,207.5 1051.5,210.8 1052.5,220.9 1053.5,225.5 1054.5,234.1 1055.5,237.9 1056.5,246.1 1057.5,252.3 1058.5,260.3 1059.5,263.4 1060.5,270.8 1061.5,277.0 1062.5,285.5 1063.5,284.8 1064.5,284.2 1065.5,290.6 1066.5,295.8 1067.5,297.8 1068.5,293.1 1069.5,298.1 1070.5,295.3 1071.5,290.4 1072.5,286.9 1073.5,278.9 1074.5,270.3 1075.5,260.9 1076.5,253.0 1077.5,238.9 1078.5,230.4 1079.5,220.2 1080.5,211.0 1081.5,203.3 1082.5,203.1 1083.5,201.9 1084.5,207.3 1085.5,215.4 1086.5,226.6 1087.5,235.7 1088.5,250.2 1089.5,268.4 1090.5,281.3 1091.5,297.4 1092.5,314.5 1093.5,327.5 1094.5,343.3 1095.5,346.7 1096.5,356.2 1097.5,373.9 1098.5,369.3 1099.5,372.5 1100.5,377.8 1101.5,384.3 1102.5,373.6 1103.5,381.5 1104.5,375.7 1105.5,380.3 1106.5,371.2 1107.5,382.2 1108.5,382.3 1109.5,381.1 1110.5,389.5 1111.5,381.2 1112.5,385.2 1113.5,387.1 1114.5,385.3 1115.5,385.8 1116.5,382.0 1117.5,389.1 1118.5,391.4 1119.5,388.6 1120.5,395.0 1121.5,392.0 1122.5,398.3 1123.5,394.9 1124.5,395.5 1125.5,390.9 1126.5,391.9 1127.5,390.8 1128.5,390.6 1129.5,391.9 1130.5,400.7 1131.5,394.3 1132.5,395.6 1133.5,393.5 1134.5,394.0 1135.5,398.9 1136.5,400.4 1137.5,396.3 1138.5,395.7 1139.5,395.0 1140.5,394.8 1141.5,392.7 1142.5,397.8 1143.5,402.6 1144.5,394.6 1145.5,400.2 1146.5,388.6 1147.5,397.8 1148.5,397.8 1149.5,399.8 1150.5,396.9 1151.5,398.9 1152.5,397.7 1153.5,389.1 1154.5,397.6 1155.5,394.8 1156.5,400.0 1157.5,404.1 1158.5,395.5 1159.5,401.9 1160.5,403.2 1161.5,397.1 1162.5,401.2 1163.5,391.5 1164.5,407.0 1165.5,396.8 1166.5,398.4 1167.5,402.5 1168.5,395.3 1169.5,396.1 1170.5,397.8 1171.5,398.7 1172.5,389.7 1173.5,390.6 1174.5,395.5 1175.5,398.3 1176.5,393.5 1177.5,388.3 1178.5,397.4 1179.5,396.1 1180.5,399.8 1181.5,399.8 1182.5,398.7 1183.5,395.2 1184.5,393.3" fill="none" stroke="#000" stroke-width="2.0" stroke-linejoin="round"/>
<path d="M642.0,216.5L643.4,216.1 645.2,215.6 647.3,215.1 649.8,214.4 652.3,213.7 654.9,212.9 657.5,212.0 660.0,211.0 662.4,209.9 665.0,208.6 667.6,207.2 670.2,205.7 672.8,204.2 675.3,202.7 677.7,201.3 680.0,200.0 682.1,198.8 684.1,197.5 685.9,196.3 687.8,195.2 689.5,194.0 691.3,193.0 693.1,192.0 695.0,191.0 697.0,190.1 699.1,189.2 701.2,188.3 703.4,187.5 705.5,186.8 707.5,186.1 709.3,185.6 711.0,185.3 712.5,185.1 713.7,185.1 714.8,185.2 715.9,185.4 716.9,185.6 717.8,186.0 718.9,186.5 720.0,187.0 721.2,187.6 722.4,188.3 723.7,189.1 724.9,190.0 726.2,191.0 727.5,192.0 728.7,193.0 730.0,194.0 731.2,195.0 732.5,196.1 733.8,197.3 735.0,198.4 736.2,199.6 737.5,200.8 738.8,201.9 740.0,203.0 741.3,204.1 742.5,205.2 743.8,206.3 745.0,207.4 746.3,208.4 747.5,209.4 748.8,210.3 750.0,211.0 751.2,211.6 752.4,212.2 753.6,212.7 754.7,213.1 755.9,213.4 757.1,213.5 758.3,213.6 759.6,213.5 760.9,213.3 762.3,213.0 763.7,212.6 765.1,212.1 766.5,211.4 768.0,210.6 769.4,209.6 770.8,208.5 772.2,207.1 773.7,205.5 775.2,203.6 776.7,201.7 778.1,199.6 779.5,197.6 780.9,195.5 782.1,193.6 783.2,191.7 784.2,189.7 785.2,187.7 786.1,185.7 786.9,183.7 787.8,181.9 788.6,180.2 789.5,178.6 790.4,177.1 791.3,175.7 792.1,174.3 793.0,173.1 793.8,172.0 794.6,171.1 795.5,170.5 796.3,170.2 797.1,170.2 797.9,170.6 798.7,171.2 799.5,172.0 800.3,173.0 801.1,174.1 801.8,175.4 802.6,176.7 803.3,178.2 804.1,179.9 804.8,181.7 805.5,183.7 806.2,185.8 806.9,187.8 807.5,189.8 808.2,191.7 808.8,193.5 809.4,195.2 810.0,196.8 810.6,198.5 811.2,200.1 811.8,201.9 812.4,203.8 813.1,205.8 813.8,208.0 814.6,210.3 815.4,212.8 816.2,215.3 817.1,217.9 817.9,220.5 818.8,223.0 819.6,225.4 820.4,227.8 821.2,230.3 822.1,232.7 822.9,235.2 823.7,237.5 824.6,239.8 825.4,241.9 826.2,243.8 827.0,245.5 827.9,247.1 828.7,248.6 829.6,250.0 830.4,251.2 831.2,252.3 832.0,253.3 832.7,254.2 833.4,255.0 834.0,255.6 834.5,256.1 835.0,256.5 835.6,256.8 836.1,257.0 836.7,257.0 837.3,256.9 838.0,256.7 838.7,256.3 839.5,255.7 840.2,255.1 841.0,254.3 841.8,253.5 842.5,252.6 843.2,251.6 843.8,250.4 844.5,249.0 845.1,247.4 845.7,245.7 846.2,244.2 846.8,242.8 847.3,241.8 847.8,241.2 848.3,241.0 848.7,241.2 849.1,241.5 849.4,242.2 849.8,243.0 850.2,244.0 850.6,245.1 851.0,246.4 851.4,247.9 851.9,249.7 852.3,251.7 852.8,253.8 853.3,256.0 853.8,258.2 854.4,260.3 855.0,262.1 855.7,263.8 856.4,265.5 857.2,267.1 858.1,268.7 858.9,270.1 859.8,271.5 860.7,272.8 861.5,273.9 862.3,274.9 863.1,275.7 863.9,276.5 864.7,277.1 865.5,277.7 866.3,278.2 867.2,278.6 868.1,279.1 869.0,279.5 870.0,279.9 871.0,280.2 872.0,280.5 873.0,280.7 874.2,280.9 875.4,281.1 876.7,281.3 878.1,281.5 879.7,281.6 881.3,281.7 883.1,281.8 884.8,281.9 886.6,282.0 888.3,282.0 890.0,282.0 891.7,282.0 893.3,282.0 895.0,281.9 896.6,281.9 898.3,281.8 900.0,281.6 901.6,281.5 903.3,281.3 905.0,281.1 906.6,280.9 908.3,280.6 910.0,280.4 911.7,280.1 913.4,279.7 915.0,279.2 916.7,278.7 918.4,278.1 920.0,277.4 921.7,276.7 923.4,275.9 925.0,275.1 926.7,274.1 928.3,273.1 930.0,272.0 931.7,270.8 933.3,269.5 935.0,268.1 936.6,266.6 938.3,265.0 940.0,263.4 941.6,261.7 943.3,260.0 945.0,258.1 946.8,256.0 948.6,253.8 950.4,251.5 952.1,249.3 953.8,247.3 955.3,245.5 956.7,244.0 957.9,242.8 959.0,241.9 959.9,241.1 960.8,240.5 961.6,240.0 962.4,239.7 963.2,239.5 964.0,239.3 964.8,239.2 965.6,239.3 966.3,239.4 967.0,239.7 967.8,240.1 968.5,240.6 969.2,241.3 970.0,242.0 970.8,242.9 971.6,244.0 972.5,245.2 973.3,246.5 974.2,247.9 975.0,249.3 975.9,250.7 976.7,252.0 977.5,253.3 978.4,254.7 979.2,256.1 980.0,257.5 980.8,258.9 981.6,260.2 982.5,261.5 983.3,262.7 984.1,263.9 985.0,265.0 985.8,266.1 986.6,267.1 987.5,268.1 988.3,269.0 989.2,269.9 990.0,270.7 990.8,271.4 991.7,272.1 992.5,272.8 993.4,273.4 994.2,273.9 995.0,274.3 995.9,274.5 996.7,274.7 997.5,274.8 998.4,274.7 999.2,274.6 1000.0,274.4 1000.8,274.0 1001.6,273.5 1002.5,272.9 1003.3,272.0 1004.1,270.9 1005.0,269.7 1005.8,268.3 1006.7,266.8 1007.5,265.1 1008.4,263.3 1009.2,261.4 1010.0,259.4 1010.8,257.4 1011.5,255.3 1012.3,253.1 1013.0,250.8 1013.7,248.3 1014.4,245.7 1015.2,242.9 1015.9,239.8 1016.6,236.5 1017.4,232.8 1018.1,229.0 1018.9,225.0 1019.6,220.8 1020.3,216.7 1021.1,212.5 1021.8,208.4 1022.5,204.3 1023.3,200.1 1024.0,195.8 1024.7,191.5 1025.4,187.2 1026.1,183.1 1026.9,179.0 1027.6,175.1 1028.3,171.2 1029.1,167.3 1029.9,163.4 1030.6,159.7 1031.4,156.1 1032.1,152.8 1032.8,150.0 1033.5,147.6 1034.1,145.6 1034.7,144.0 1035.3,142.7 1035.8,141.7 1036.3,141.1 1036.9,140.8 1037.4,140.9 1038.0,141.3 1038.6,142.1 1039.3,143.3 1039.9,144.9 1040.6,146.8 1041.2,149.0 1041.9,151.6 1042.6,154.4 1043.3,157.5 1044.0,160.9 1044.7,164.7 1045.5,168.9 1046.2,173.3 1047.0,177.9 1047.7,182.8 1048.5,187.7 1049.2,192.7 1049.9,197.9 1050.7,203.5 1051.4,209.2 1052.2,215.1 1052.9,221.0 1053.6,226.8 1054.4,232.5 1055.1,237.8 1055.9,243.0 1056.6,248.2 1057.4,253.3 1058.2,258.2 1058.9,262.9 1059.7,267.4 1060.4,271.4 1061.0,275.0 1061.6,278.1 1062.1,280.7 1062.6,283.0 1063.1,284.9 1063.6,286.6 1064.1,288.2 1064.5,289.6 1065.0,291.0 1065.5,292.4 1066.0,293.6 1066.5,294.8 1067.0,295.8 1067.4,296.6 1067.9,297.1 1068.4,297.4 1068.8,297.3 1069.2,296.9 1069.6,296.2 1070.0,295.1 1070.4,293.9 1070.8,292.4 1071.2,290.8 1071.5,289.0 1071.9,287.2 1072.3,285.2 1072.6,283.0 1073.0,280.6 1073.3,278.0 1073.7,275.4 1074.0,272.7 1074.4,270.0 1074.7,267.3 1075.0,264.7 1075.3,262.1 1075.6,259.5 1076.0,256.8 1076.3,254.1 1076.6,251.2 1076.9,248.2 1077.2,245.0 1077.5,241.4 1077.9,237.5 1078.2,233.2 1078.6,228.9 1079.0,224.7 1079.3,220.7 1079.7,217.1 1080.0,214.0 1080.3,211.3 1080.7,208.8 1081.0,206.6 1081.3,204.7 1081.6,203.0 1082.0,201.8 1082.3,200.9 1082.6,200.5 1082.9,200.6 1083.2,201.3 1083.5,202.4 1083.9,203.8 1084.2,205.5 1084.5,207.4 1084.7,209.2 1085.0,211.0 1085.2,212.7 1085.5,214.5 1085.7,216.4 1085.9,218.4 1086.1,220.5 1086.3,222.8 1086.5,225.3 1086.7,228.0 1086.9,231.0 1087.2,234.1 1087.5,237.5 1087.8,241.1 1088.0,244.8 1088.3,248.7 1088.6,252.7 1088.9,256.8 1089.2,261.2 1089.5,265.9 1089.8,270.8 1090.1,275.9 1090.4,280.9 1090.7,285.9 1091.0,290.6 1091.3,295.0 1091.6,299.1 1091.8,303.0 1092.0,306.8 1092.3,310.5 1092.5,314.0 1092.7,317.4 1092.9,320.7 1093.2,324.0 1093.4,327.2 1093.7,330.2 1093.9,333.2 1094.1,336.0 1094.4,338.8 1094.7,341.5 1095.1,344.1 1095.5,346.7 1096.0,349.3 1096.6,351.9 1097.2,354.5 1097.9,357.0 1098.6,359.3 1099.3,361.5 1100.0,363.5 1100.7,365.3 1101.4,366.8 1102.0,368.0 1102.7,369.0 1103.4,369.8 1104.1,370.6 1104.8,371.2 1105.4,371.9 1106.0,372.5 1106.5,373.1 1106.9,373.6 1107.2,373.9 1107.5,374.3 1107.9,374.6 1108.4,375.0 1109.1,375.4 1110.0,376.0 1111.2,376.7 1112.5,377.5 1114.0,378.4 1115.7,379.3 1117.4,380.2 1119.3,381.1 1121.3,381.9 1123.3,382.7 1125.3,383.4 1127.3,384.0 1129.4,384.6 1131.5,385.2 1133.9,385.8 1136.6,386.3 1139.7,386.8 1143.3,387.3 1147.7,387.8 1153.1,388.3 1159.1,388.8 1165.3,389.2 1171.3,389.7 1176.8,390.0 1181.4,390.4 1184.7,390.6" fill="none" stroke="#ff0000" stroke-width="2.70" stroke-linejoin="round" stroke-linecap="round" />
<rect x="641.7" y="33" width="543.6" height="404.5" fill="none" stroke="#000" stroke-width="1.8"/>
<line x1="640.9" y1="437.5" x2="1186.1" y2="437.5" stroke="#000" stroke-width="2.9"/>
<line x1="641.70" y1="437.5" x2="641.70" y2="444.8" stroke="#000" stroke-width="2.8" stroke-linecap="round"/>
<text x="641.70" y="467.50" font-size="21.00" text-anchor="middle" >885</text>
<line x1="675.68" y1="437.5" x2="675.68" y2="440.8" stroke="#000" stroke-width="2.8" stroke-linecap="round"/>
<line x1="709.65" y1="437.5" x2="709.65" y2="444.8" stroke="#000" stroke-width="2.8" stroke-linecap="round"/>
<text x="709.65" y="467.50" font-size="21.00" text-anchor="middle" >880</text>
<line x1="743.62" y1="437.5" x2="743.62" y2="440.8" stroke="#000" stroke-width="2.8" stroke-linecap="round"/>
<line x1="777.60" y1="437.5" x2="777.60" y2="444.8" stroke="#000" stroke-width="2.8" stroke-linecap="round"/>
<text x="777.60" y="467.50" font-size="21.00" text-anchor="middle" >875</text>
<line x1="811.58" y1="437.5" x2="811.58" y2="440.8" stroke="#000" stroke-width="2.8" stroke-linecap="round"/>
<line x1="845.55" y1="437.5" x2="845.55" y2="444.8" stroke="#000" stroke-width="2.8" stroke-linecap="round"/>
<text x="845.55" y="467.50" font-size="21.00" text-anchor="middle" >870</text>
<line x1="879.52" y1="437.5" x2="879.52" y2="440.8" stroke="#000" stroke-width="2.8" stroke-linecap="round"/>
<line x1="913.50" y1="437.5" x2="913.50" y2="444.8" stroke="#000" stroke-width="2.8" stroke-linecap="round"/>
<text x="913.50" y="467.50" font-size="21.00" text-anchor="middle" >865</text>
<line x1="947.48" y1="437.5" x2="947.48" y2="440.8" stroke="#000" stroke-width="2.8" stroke-linecap="round"/>
<line x1="981.45" y1="437.5" x2="981.45" y2="444.8" stroke="#000" stroke-width="2.8" stroke-linecap="round"/>
<text x="981.45" y="467.50" font-size="21.00" text-anchor="middle" >860</text>
<line x1="1015.42" y1="437.5" x2="1015.42" y2="440.8" stroke="#000" stroke-width="2.8" stroke-linecap="round"/>
<line x1="1049.40" y1="437.5" x2="1049.40" y2="444.8" stroke="#000" stroke-width="2.8" stroke-linecap="round"/>
<text x="1049.40" y="467.50" font-size="21.00" text-anchor="middle" >855</text>
<line x1="1083.38" y1="437.5" x2="1083.38" y2="440.8" stroke="#000" stroke-width="2.8" stroke-linecap="round"/>
<line x1="1117.35" y1="437.5" x2="1117.35" y2="444.8" stroke="#000" stroke-width="2.8" stroke-linecap="round"/>
<text x="1117.35" y="467.50" font-size="21.00" text-anchor="middle" >850</text>
<line x1="1151.32" y1="437.5" x2="1151.32" y2="440.8" stroke="#000" stroke-width="2.8" stroke-linecap="round"/>
<line x1="1185.30" y1="437.5" x2="1185.30" y2="444.8" stroke="#000" stroke-width="2.8" stroke-linecap="round"/>
<text x="1185.30" y="467.50" font-size="21.00" text-anchor="middle" >845</text>
<text x="799.60" y="512.80" font-size="25.40" text-anchor="start" >Binding Energy/(eV)</text>
<text x="619.30" y="243.30" font-size="26.20" text-anchor="middle" transform="rotate(-90 619.3 243.3)">Intensity/(a.u.)</text>
<text x="645.80" y="19.50" font-size="28.40" text-anchor="start" >(b)</text>
<text x="660.50" y="67.00" font-size="24.50" text-anchor="start" >Ni 2p</text>
<text x="700.70" y="167.70" font-size="25.00" text-anchor="start" >Sat.</text>
<text x="778.05" y="145.30" font-size="22.50" text-anchor="start" >2p</text>
<text x="803.80" y="155.20" font-size="14.50" text-anchor="start" >1/2</text>
<text x="835.40" y="224.40" font-size="23.00" text-anchor="start" >2p</text>
<text x="860.80" y="233.60" font-size="15.00" text-anchor="start" >1/2</text>
<text x="948.00" y="223.00" font-size="24.30" text-anchor="start" >Sat.</text>
<text x="1008.00" y="115.10" font-size="24.50" text-anchor="start" >2p</text>
<text x="1034.10" y="125.00" font-size="15.00" text-anchor="start" >3/2</text>
<text x="1075.10" y="188.70" font-size="24.80" text-anchor="start" >Ni</text>
<text x="1099.40" y="175.50" font-size="15.50" text-anchor="start" >0</text>
<path d="M370.5,769.5L372.8,769.7 375.8,769.9 379.5,770.2 383.5,770.5 387.8,770.8 392.0,771.2 396.2,771.6 400.0,772.0 403.7,772.4 407.5,773.0 411.3,773.5 415.1,774.1 418.7,774.6 422.2,775.1 425.3,775.6 428.0,776.0 430.1,776.3 431.5,776.5 432.4,776.6 433.2,776.8 434.2,776.9 435.4,777.0 437.3,777.2 440.0,777.5 443.7,777.9 448.3,778.4 453.4,778.9 458.9,779.4 464.5,780.0 470.0,780.5 475.3,780.9 480.0,781.3 484.2,781.6 488.2,781.7 492.0,781.9 495.6,782.0 499.2,782.0 502.7,782.1 506.3,782.2 510.0,782.3 513.9,782.4 517.9,782.5 521.9,782.7 525.9,782.8 529.8,782.9 533.6,783.0 537.0,783.2 540.0,783.3 542.6,783.5 544.8,783.6 546.7,783.8 548.4,784.0 550.0,784.2 551.6,784.4 553.2,784.6 555.0,784.8 556.9,785.0 558.8,785.2 560.6,785.3 562.5,785.5 564.4,785.7 566.2,785.9 568.1,786.1 570.0,786.3 571.9,786.5 573.8,786.8 575.6,787.0 577.5,787.3 579.4,787.5 581.2,787.8 583.1,788.1 585.0,788.5 586.9,788.9 588.8,789.3 590.6,789.8 592.5,790.3 594.4,790.8 596.2,791.3 598.1,791.8 600.0,792.3 601.9,792.8 603.8,793.4 605.6,793.9 607.5,794.5 609.4,795.0 611.2,795.6 613.1,796.2 615.0,796.8 616.9,797.4 618.8,798.0 620.6,798.6 622.5,799.3 624.4,799.9 626.2,800.6 628.1,801.3 630.0,802.0 631.9,802.7 633.8,803.4 635.6,804.1 637.5,804.9 639.4,805.7 641.2,806.5 643.1,807.5 645.0,808.5 646.9,809.6 648.8,810.9 650.6,812.2 652.5,813.6 654.4,815.1 656.2,816.5 658.1,818.0 660.0,819.5 661.9,821.0 663.8,822.5 665.6,824.0 667.5,825.6 669.4,827.2 671.2,828.8 673.1,830.4 675.0,832.0 676.9,833.6 678.8,835.3 680.6,837.1 682.5,838.8 684.4,840.5 686.2,842.2 688.1,843.9 690.0,845.5 691.9,847.1 693.8,848.6 695.6,850.1 697.5,851.6 699.4,853.1 701.2,854.5 703.1,856.0 705.0,857.5 706.8,859.0 708.6,860.4 710.4,861.9 712.2,863.4 714.0,864.8 715.9,866.3 717.9,867.9 720.0,869.5 722.2,871.2 724.6,872.9 727.0,874.7 729.5,876.5 732.0,878.3 734.7,880.1 737.3,881.9 740.0,883.7 742.8,885.5 745.6,887.2 748.5,889.0 751.4,890.7 754.4,892.5 757.4,894.2 760.4,896.0 763.3,897.7 766.2,899.5 769.1,901.3 772.1,903.1 775.0,904.9 777.9,906.7 780.9,908.4 783.8,910.1 786.7,911.7 789.6,913.2 792.5,914.6 795.4,916.0 798.4,917.3 801.3,918.6 804.2,919.8 807.1,921.0 810.0,922.2 812.9,923.3 815.8,924.4 818.7,925.5 821.6,926.5 824.6,927.4 827.5,928.4 830.4,929.4 833.3,930.3 836.3,931.3 839.4,932.2 842.5,933.2 845.6,934.1 848.6,935.0 851.5,935.8 854.2,936.6 856.7,937.3 859.0,937.9 861.2,938.5 863.3,939.0 865.2,939.5 866.9,939.9 868.4,940.3 869.7,940.6 870.7,940.8" fill="none" stroke="#800080" stroke-width="2.00" stroke-linejoin="round" stroke-linecap="round" />
<path d="M370.5,769.0L372.8,769.2 375.8,769.4 379.5,769.7 383.5,770.0 387.8,770.3 392.0,770.7 396.2,771.1 400.0,771.5 403.7,771.9 407.5,772.5 411.3,773.0 415.1,773.6 418.7,774.2 422.2,774.7 425.3,775.1 428.0,775.5 430.1,775.8 431.5,775.9 432.4,776.0 433.2,776.1 434.2,776.1 435.4,776.2 437.3,776.3 440.0,776.5 443.7,776.8 448.3,777.1 453.4,777.4 458.9,777.8 464.5,778.1 470.0,778.4 475.3,778.7 480.0,779.0 484.2,779.2 488.2,779.4 492.0,779.5 495.6,779.6 499.2,779.7 502.7,779.8 506.3,779.9 510.0,780.0 513.9,780.1 517.9,780.1 521.9,780.2 525.9,780.2 529.8,780.2 533.6,780.2 537.0,780.3 540.0,780.3 542.6,780.3 544.8,780.4 546.7,780.4 548.4,780.4 550.0,780.5 551.6,780.5 553.2,780.6 555.0,780.7 556.9,780.8 558.8,780.9 560.6,781.0 562.5,781.2 564.4,781.3 566.2,781.5 568.1,781.6 570.0,781.8 571.9,782.0 573.8,782.1 575.6,782.3 577.5,782.5 579.4,782.7 581.2,782.9 583.1,783.1 585.0,783.3 586.9,783.5 588.8,783.8 590.6,784.0 592.5,784.3 594.4,784.5 596.2,784.8 598.1,785.1 600.0,785.5 601.9,785.9 603.8,786.3 605.6,786.8 607.5,787.3 609.4,787.8 611.2,788.3 613.1,788.8 615.0,789.3 616.9,789.8 618.8,790.3 620.6,790.9 622.5,791.4 624.4,792.0 626.2,792.6 628.1,793.2 630.0,793.8 631.9,794.4 633.8,795.1 635.6,795.7 637.5,796.4 639.4,797.1 641.2,797.8 643.1,798.6 645.0,799.5 646.9,800.4 648.8,801.4 650.6,802.5 652.5,803.5 654.4,804.7 656.2,805.8 658.1,806.9 660.0,808.0 661.9,809.1 663.8,810.2 665.6,811.3 667.5,812.5 669.4,813.6 671.2,814.7 673.1,815.9 675.0,817.0 676.9,818.2 678.9,819.4 681.0,820.6 683.0,821.8 684.9,823.0 686.8,824.1 688.5,825.1 690.0,826.0 691.3,826.8 692.4,827.5 693.4,828.1 694.2,828.6 695.0,829.1 695.8,829.6 696.6,830.0 697.5,830.5 698.4,830.9 699.2,831.3 700.0,831.7 700.8,832.0 701.6,832.3 702.6,832.7 703.7,833.1 705.0,833.5 706.5,834.0 708.3,834.6 710.3,835.2 712.3,835.8 714.4,836.5 716.4,837.1 718.3,837.6 720.0,838.0 721.5,838.3 722.7,838.6 723.9,838.8 725.0,839.0 726.1,839.1 727.4,839.2 728.9,839.4 730.7,839.5 732.9,839.6 735.4,839.8 738.2,839.9 741.0,840.0 743.9,840.1 746.8,840.2 749.4,840.3 751.7,840.5 753.8,840.7 755.6,840.9 757.4,841.1 759.0,841.3 760.6,841.6 762.1,841.8 763.5,842.1 765.0,842.5 766.4,842.9 767.8,843.4 769.2,843.9 770.5,844.4 771.8,844.9 772.9,845.5 774.0,846.0 775.0,846.5 775.8,847.0 776.5,847.4 777.0,847.8 777.5,848.2 778.0,848.6 778.5,849.1 779.2,849.7 780.0,850.3 781.0,851.0 782.1,851.8 783.3,852.7 784.6,853.6 785.9,854.5 787.2,855.5 788.5,856.5 789.8,857.5 791.0,858.5 792.2,859.6 793.5,860.8 794.7,861.9 795.9,863.1 797.1,864.3 798.4,865.5 799.6,866.6 800.8,867.7 802.1,868.8 803.3,870.0 804.6,871.1 805.8,872.2 807.0,873.3 808.3,874.4 809.5,875.5 810.7,876.6 812.0,877.7 813.2,878.8 814.4,879.9 815.6,880.9 816.9,882.0 818.1,883.1 819.3,884.2 820.5,885.3 821.7,886.4 823.0,887.4 824.2,888.5 825.4,889.6 826.6,890.7 827.9,891.8 829.1,893.0 830.3,894.2 831.6,895.5 832.8,896.8 834.1,898.1 835.4,899.4 836.6,900.6 837.9,901.9 839.1,903.0 840.3,904.1 841.6,905.1 842.8,906.1 844.0,907.0 845.2,907.9 846.5,908.8 847.7,909.7 848.9,910.5 850.1,911.3 851.3,912.1 852.5,912.8 853.6,913.5 854.8,914.2 856.1,914.9 857.4,915.6 858.7,916.4 860.2,917.3 861.9,918.2 863.7,919.2 865.5,920.2 867.2,921.1 868.7,922.0 870.0,922.7 871.0,923.2" fill="none" stroke="#000" stroke-width="2.00" stroke-linejoin="round" stroke-linecap="round" />
<path d="M370.5,768.0L372.8,768.2 375.8,768.4 379.5,768.7 383.5,769.0 387.8,769.3 392.0,769.7 396.2,770.1 400.0,770.5 403.7,770.9 407.5,771.5 411.3,772.0 415.1,772.6 418.7,773.2 422.2,773.7 425.3,774.1 428.0,774.5 430.1,774.8 431.5,774.9 432.4,775.1 433.2,775.1 434.2,775.2 435.4,775.3 437.3,775.4 440.0,775.5 443.6,775.7 447.7,776.0 452.4,776.3 457.4,776.5 462.8,776.8 468.4,777.0 474.2,777.2 480.0,777.3 486.1,777.3 492.7,777.2 499.6,777.1 506.6,777.0 513.7,776.8 520.6,776.5 527.2,776.3 533.3,776.0 539.0,775.7 544.5,775.3 549.9,775.0 555.0,774.6 559.9,774.1 564.5,773.7 569.0,773.2 573.3,772.7 577.3,772.2 580.9,771.8 584.3,771.3 587.5,770.8 590.6,770.2 593.6,769.6 596.8,768.9 600.0,768.0 603.4,767.0 606.9,765.8 610.5,764.6 614.0,763.2 617.4,761.8 620.7,760.4 623.8,758.9 626.7,757.5 629.3,756.0 631.7,754.4 634.0,752.8 636.0,751.1 638.0,749.5 639.9,747.9 641.6,746.4 643.3,745.0 644.9,743.7 646.3,742.5 647.7,741.4 648.9,740.3 650.1,739.3 651.2,738.3 652.3,737.5 653.3,736.7 654.3,736.0 655.1,735.5 655.9,735.0 656.7,734.6 657.4,734.3 658.2,733.9 659.1,733.6 660.0,733.3 661.0,733.0 662.2,732.6 663.3,732.3 664.5,732.0 665.8,731.7 667.0,731.5 668.1,731.3 669.2,731.3 670.2,731.3 671.2,731.4 672.1,731.6 673.0,731.8 673.9,732.0 674.8,732.4 675.7,732.8 676.7,733.3 677.7,733.9 678.7,734.5 679.8,735.2 680.8,735.9 681.9,736.8 682.9,737.8 684.0,738.8 685.0,740.0 686.0,741.3 687.1,742.8 688.1,744.4 689.1,746.0 690.2,747.8 691.2,749.6 692.3,751.4 693.3,753.3 694.3,755.2 695.4,757.2 696.4,759.2 697.5,761.3 698.6,763.5 699.6,765.6 700.7,767.8 701.7,770.0 702.8,772.2 703.8,774.5 704.9,776.7 706.0,779.0 707.0,781.4 708.0,783.7 709.0,786.0 710.0,788.3 710.9,790.6 711.7,792.8 712.4,795.1 713.1,797.3 713.9,799.6 714.7,801.9 715.6,804.3 716.7,806.7 717.9,809.2 719.3,811.8 720.7,814.4 722.2,817.0 723.7,819.7 725.3,822.4 726.8,825.1 728.3,827.7 729.8,830.4 731.2,833.1 732.7,835.9 734.1,838.6 735.6,841.3 737.1,843.9 738.5,846.4 740.0,848.7 741.5,850.8 742.9,852.7 744.4,854.5 745.9,856.1 747.3,857.8 748.8,859.4 750.2,861.0 751.7,862.7 753.1,864.4 754.3,866.1 755.5,867.7 756.8,869.4 758.1,871.1 759.6,872.9 761.3,874.7 763.3,876.7 765.7,878.8 768.3,881.1 771.2,883.5 774.3,886.0 777.4,888.5 780.6,890.9 783.7,893.2 786.7,895.3 789.6,897.3 792.5,899.1 795.4,900.9 798.4,902.6 801.3,904.3 804.2,905.9 807.1,907.6 810.0,909.3 812.9,911.1 815.8,912.9 818.7,914.8 821.6,916.6 824.6,918.4 827.5,920.1 830.4,921.8 833.3,923.3 836.3,924.7 839.4,926.1 842.5,927.4 845.6,928.7 848.6,929.8 851.5,930.9 854.2,931.8 856.7,932.7 859.0,933.4 861.2,934.1 863.3,934.6 865.2,935.0 866.9,935.4 868.4,935.7 869.7,936.0 870.7,936.2" fill="none" stroke="#ff0000" stroke-width="2.00" stroke-linejoin="round" stroke-linecap="round" />
<polyline points="370.0,764.0 372.0,755.0 374.0,755.5 376.0,754.5 377.5,744.5 379.5,747.5 380.5,765.0 381.5,765.0 384.2,740.8 385.5,750.0 387.5,759.0 389.5,765.0 392.5,747.0 394.5,754.5 397.0,742.5 398.5,751.0 400.0,746.0 403.0,765.0 406.0,747.0 408.5,749.0 411.0,756.0 413.0,751.0 415.5,742.0 418.0,752.5 420.5,768.0 423.0,768.0 426.0,757.0 428.1,760.3 429.2,766.1 430.8,761.3 434.0,762.4 435.6,772.0 437.5,757.1 439.3,763.5 442.0,764.0 444.1,772.0 446.3,781.1 447.9,769.3 449.5,759.2 451.1,766.7 453.2,758.7 455.3,760.3 456.9,769.9 459.6,770.9 461.2,768.3 462.8,772.0 464.1,786.9 466.0,780.5 467.1,772.0 468.7,772.5 471.3,771.5 473.5,769.9 475.9,760.3 478.3,766.7 479.9,777.3 482.0,786.4 484.1,769.3 486.3,761.3 487.9,768.8 489.5,785.3 491.5,789.0 494.0,772.0 497.0,757.0 500.0,774.0 501.5,773.0 503.5,789.0 506.0,784.0 509.0,774.0 512.0,766.0 515.0,775.0 517.0,784.0 520.0,780.0 523.0,790.0 525.0,799.0 527.0,778.0 529.0,772.0 532.0,776.0 535.0,775.0 538.0,796.0 541.0,780.0 543.0,769.0 546.0,765.0 548.0,789.0 551.0,763.0 554.0,777.0 557.0,775.0 560.0,767.0 563.0,776.0 566.0,780.0 570.0,767.0 572.0,773.0 575.0,772.0 578.0,777.0 581.0,760.0 584.0,754.0 587.0,768.0 589.0,765.0 591.0,778.0 593.0,760.0 596.0,762.0 598.0,749.0 601.0,758.0 603.0,740.0 605.8,762.3 608.2,755.3 611.7,756.5 615.2,737.8 618.7,753.0 622.2,744.8 624.5,755.3 629.2,739.0 632.7,768.2 635.0,748.3 639.7,748.3 642.0,748.3 644.3,728.5 647.8,728.5 651.3,712.2 654.8,719.2 657.2,715.7 660.7,732.0 664.2,702.8 666.5,715.7 670.0,727.3 672.3,722.7 674.7,718.0 678.2,712.2 680.5,722.7 682.8,716.8 685.2,721.5 687.5,711.0 691.0,722.7 693.3,734.3 695.7,750.7 698.0,748.3 701.5,755.3 705.0,767.0 708.5,771.7 710.8,762.3 714.3,757.7 716.7,755.3 719.0,767.0 721.3,769.3 722.5,780.1 725.0,782.6 726.7,793.5 728.4,799.4 730.1,788.5 732.6,802.0 735.1,794.4 736.8,807.8 739.3,809.5 741.9,799.4 744.4,807.8 746.1,825.5 748.6,817.1 752.8,831.4 756.2,811.2 759.5,827.2 762.1,816.3 766.3,814.6 770.5,843.2 777.2,813.7 781.4,837.3 784.0,845.0 786.5,832.0 788.5,846.0 790.6,841.0 792.9,854.5 795.9,860.4 799.8,876.1 803.7,856.5 807.2,869.3 810.6,883.0 814.5,867.3 817.5,873.2 819.4,868.3 823.4,870.2 826.3,876.1 829.3,880.0 830.2,897.7 833.2,873.2 836.1,886.9 839.1,876.1 841.0,888.9 843.5,879.1 845.9,887.9 848.9,902.6 852.8,902.6 855.8,911.5 858.7,904.6 861.6,898.7 864.6,922.2 867.5,915.4 869.5,923.2 871.0,921.3" fill="none" stroke="#ff0000" stroke-width="2.8" stroke-linejoin="round"/>
<path d="M370.5,766.5L372.8,766.7 375.8,766.9 379.5,767.2 383.5,767.6 387.8,767.9 392.0,768.3 396.2,768.6 400.0,769.0 403.7,769.4 407.5,769.8 411.3,770.2 415.1,770.6 418.7,771.0 422.2,771.4 425.3,771.7 428.0,772.0 430.1,772.2 431.5,772.3 432.4,772.4 433.2,772.5 434.2,772.6 435.4,772.7 437.3,772.8 440.0,773.0 443.8,773.3 448.3,773.7 453.5,774.2 459.1,774.6 464.7,775.1 470.3,775.5 475.4,775.8 480.0,776.0 484.0,776.0 487.6,776.0 491.0,775.9 494.2,775.7 497.3,775.4 500.3,775.2 503.5,774.9 506.7,774.7 510.0,774.5 513.4,774.3 516.7,774.0 520.0,773.8 523.3,773.5 526.6,773.3 530.0,773.0 533.3,772.7 536.6,772.4 540.0,772.1 543.3,771.8 546.6,771.5 550.0,771.2 553.3,770.8 556.7,770.4 560.0,770.0 563.3,769.5 566.7,769.1 570.0,768.6 573.4,768.0 576.7,767.4 580.0,766.8 583.4,766.1 586.7,765.3 590.1,764.4 593.7,763.4 597.3,762.3 600.8,761.2 604.3,760.0 607.6,758.8 610.6,757.7 613.3,756.7 615.6,755.7 617.7,754.8 619.5,753.9 621.1,753.0 622.6,752.1 624.0,751.2 625.4,750.3 626.7,749.5 628.0,748.7 629.1,747.9 630.2,747.2 631.2,746.5 632.1,745.7 633.0,745.0 634.0,744.2 635.0,743.3 636.0,742.4 637.1,741.4 638.1,740.3 639.1,739.2 640.2,738.1 641.2,737.1 642.3,736.0 643.3,735.0 644.3,734.0 645.4,733.0 646.4,732.1 647.5,731.1 648.6,730.2 649.6,729.2 650.7,728.4 651.7,727.5 652.7,726.7 653.8,725.9 654.8,725.1 655.9,724.4 656.9,723.7 657.9,723.0 659.0,722.3 660.0,721.7 661.1,721.1 662.2,720.5 663.3,719.9 664.4,719.3 665.4,718.8 666.5,718.3 667.4,717.9 668.3,717.5 669.1,717.2 669.7,717.0 670.3,716.8 670.9,716.7 671.4,716.7 672.0,716.7 672.6,716.7 673.3,716.7 674.1,716.8 674.9,716.9 675.7,717.0 676.5,717.1 677.4,717.3 678.3,717.6 679.2,717.9 680.0,718.3 680.8,718.7 681.7,719.2 682.5,719.7 683.4,720.3 684.2,720.9 685.0,721.6 685.9,722.4 686.7,723.3 687.5,724.3 688.3,725.4 689.1,726.5 689.9,727.8 690.7,729.1 691.5,730.4 692.4,731.9 693.3,733.3 694.3,734.8 695.3,736.4 696.3,738.1 697.4,739.8 698.5,741.5 699.6,743.3 700.6,745.0 701.7,746.7 702.7,748.3 703.7,750.0 704.7,751.6 705.8,753.2 706.8,754.8 707.8,756.5 708.9,758.2 710.0,760.0 711.2,761.9 712.4,763.9 713.7,766.0 715.0,768.0 716.3,770.1 717.6,772.2 718.8,774.1 720.0,776.0 721.1,777.7 722.2,779.4 723.2,781.1 724.2,782.6 725.2,784.1 726.1,785.6 727.1,787.1 728.0,788.5 728.9,789.9 729.9,791.2 730.8,792.6 731.7,793.8 732.6,795.1 733.4,796.3 734.2,797.4 735.0,798.5 735.7,799.5 736.2,800.4 736.7,801.2 737.2,802.0 737.7,802.8 738.3,803.6 739.1,804.5 740.0,805.5 741.1,806.7 742.5,807.9 743.9,809.3 745.4,810.7 747.0,812.1 748.6,813.5 750.2,814.8 751.7,816.0 753.2,817.1 754.7,818.1 756.3,819.1 757.8,820.1 759.3,821.0 760.7,821.8 762.1,822.7 763.3,823.5 764.4,824.3 765.4,825.0 766.2,825.6 767.0,826.2 767.8,826.9 768.6,827.5 769.5,828.2 770.5,829.0 771.6,829.8 772.7,830.7 773.9,831.6 775.1,832.6 776.3,833.5 777.6,834.5 778.8,835.5 780.0,836.5 781.2,837.5 782.4,838.6 783.7,839.6 784.9,840.7 786.1,841.8 787.3,842.9 788.6,844.0 789.8,845.1 791.0,846.2 792.2,847.3 793.5,848.4 794.7,849.5 795.9,850.6 797.1,851.8 798.4,853.0 799.6,854.2 800.8,855.5 802.1,856.8 803.3,858.2 804.6,859.7 805.8,861.1 807.0,862.5 808.3,863.9 809.5,865.3 810.7,866.6 812.0,868.0 813.2,869.3 814.4,870.6 815.6,871.9 816.9,873.2 818.1,874.5 819.3,875.8 820.5,877.1 821.7,878.4 822.9,879.7 824.1,881.0 825.3,882.3 826.6,883.6 827.8,885.0 829.1,886.3 830.4,887.7 831.8,889.1 833.2,890.6 834.6,892.1 836.0,893.5 837.4,894.9 838.7,896.2 840.0,897.4 841.2,898.5 842.3,899.5 843.4,900.4 844.5,901.2 845.6,902.0 846.7,902.8 847.8,903.7 848.9,904.6 850.1,905.6 851.2,906.5 852.4,907.5 853.6,908.5 854.8,909.5 856.1,910.5 857.3,911.5 858.7,912.4 860.2,913.4 861.9,914.3 863.7,915.4 865.5,916.3 867.2,917.3 868.7,918.1 870.0,918.8 871.0,919.3" fill="none" stroke="#800080" stroke-width="2.00" stroke-linejoin="round" stroke-linecap="round" />
<rect x="369.8" y="587" width="501.8" height="406" fill="none" stroke="#000" stroke-width="1.8"/>
<line x1="369" y1="993" x2="872.4" y2="993" stroke="#000" stroke-width="3.1"/>
<line x1="369.80" y1="993" x2="369.80" y2="1000.3" stroke="#000" stroke-width="2.8" stroke-linecap="round"/>
<text x="369.80" y="1025.00" font-size="21.00" text-anchor="middle" >725</text>
<line x1="424.34" y1="993" x2="424.34" y2="996.3" stroke="#000" stroke-width="2.8" stroke-linecap="round"/>
<line x1="478.89" y1="993" x2="478.89" y2="1000.3" stroke="#000" stroke-width="2.8" stroke-linecap="round"/>
<text x="478.89" y="1025.00" font-size="21.00" text-anchor="middle" >720</text>
<line x1="533.43" y1="993" x2="533.43" y2="996.3" stroke="#000" stroke-width="2.8" stroke-linecap="round"/>
<line x1="587.97" y1="993" x2="587.97" y2="1000.3" stroke="#000" stroke-width="2.8" stroke-linecap="round"/>
<text x="587.97" y="1025.00" font-size="21.00" text-anchor="middle" >715</text>
<line x1="642.52" y1="993" x2="642.52" y2="996.3" stroke="#000" stroke-width="2.8" stroke-linecap="round"/>
<line x1="697.06" y1="993" x2="697.06" y2="1000.3" stroke="#000" stroke-width="2.8" stroke-linecap="round"/>
<text x="697.06" y="1025.00" font-size="21.00" text-anchor="middle" >710</text>
<line x1="751.60" y1="993" x2="751.60" y2="996.3" stroke="#000" stroke-width="2.8" stroke-linecap="round"/>
<line x1="806.15" y1="993" x2="806.15" y2="1000.3" stroke="#000" stroke-width="2.8" stroke-linecap="round"/>
<text x="806.15" y="1025.00" font-size="21.00" text-anchor="middle" >705</text>
<line x1="860.69" y1="993" x2="860.69" y2="996.3" stroke="#000" stroke-width="2.8" stroke-linecap="round"/>
<text x="508.30" y="1063.75" font-size="25.40" text-anchor="start" >Binding Energy/(eV)</text>
<text x="348.40" y="797.00" font-size="26.20" text-anchor="middle" transform="rotate(-90 348.4 797)">Intensity/(a.u.)</text>
<text x="371.80" y="572.50" font-size="28.40" text-anchor="start" >(c)</text>
<text x="379.10" y="610.50" font-size="23.90" text-anchor="start" >Fe 2p</text>
<text x="640.40" y="691.75" font-size="23.00" text-anchor="start" >Fe</text>
<text x="664.40" y="679.30" font-size="21.50" text-anchor="start" >3</text>
<text x="674.60" y="679.80" font-size="22.00" text-anchor="start" font-weight="normal">+</text>
<text x="779.20" y="807.50" font-size="20.50" text-anchor="start" >Fe</text>
<text x="800.10" y="794.00" font-size="21.00" text-anchor="start" >2</text>
<text x="809.60" y="794.80" font-size="22.00" text-anchor="start" font-weight="normal">+</text>
</svg>
</body></html>
